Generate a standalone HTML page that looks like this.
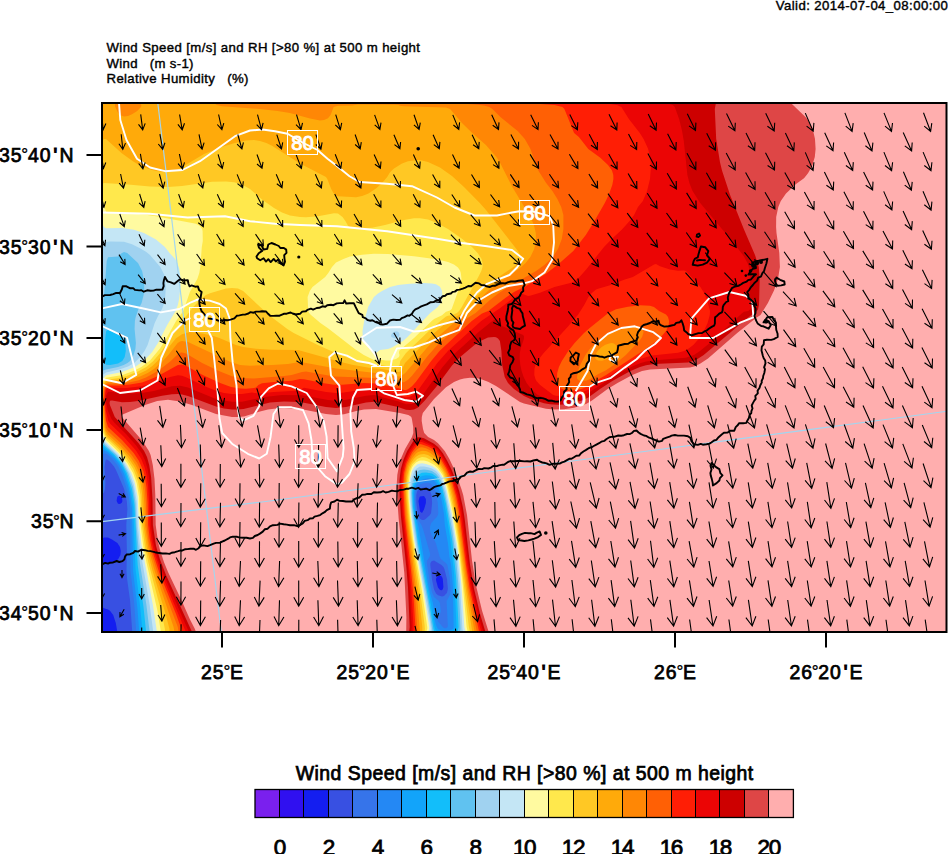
<!DOCTYPE html>
<html lang="en"><head><meta charset="utf-8"><title>Wind Speed and RH at 500 m height</title>
<style>html,body{margin:0;padding:0;background:#fff}body{width:948px;height:854px;overflow:hidden}svg{display:block;font-family:"Liberation Sans",sans-serif}text{fill:#000}</style></head><body>
<svg width="948" height="854" viewBox="0 0 948 854">
<rect width="948" height="854" fill="#fff"/>
<defs><clipPath id="m"><rect x="102.0" y="103.0" width="844.5" height="529.0"/></clipPath></defs>
<g clip-path="url(#m)">
<rect x="102.0" y="103.0" width="844.5" height="529.0" fill="#ffaeae"/>
<g>
<path d="M102.0,101.0 788.8,101.0 806.0,117.5 808.0,120.1 812.7,129.0 815.0,139.0 815.6,149.0 814.8,157.0 812.0,166.3 808.0,173.2 804.0,178.3 796.0,183.9 786.0,193.6 780.8,201.0 778.3,207.0 776.2,217.0 776.1,227.0 776.5,233.0 779.3,253.0 779.9,267.0 778.0,279.0 774.0,290.6 767.9,303.0 760.5,315.0 756.0,317.9 737.2,333.0 708.0,358.4 700.0,363.8 694.0,366.4 690.0,367.4 650.0,369.4 642.0,371.0 632.3,375.0 617.5,383.0 607.6,389.0 592.0,400.6 586.0,403.9 574.0,407.8 564.0,409.3 554.0,409.4 546.0,408.8 524.0,403.5 520.0,401.9 496.0,385.9 488.0,381.7 482.0,379.5 476.0,378.0 470.0,377.7 464.0,378.4 460.0,379.4 454.0,382.0 446.0,387.3 434.0,399.0 422.8,413.0 421.8,417.0 421.7,421.0 423.0,429.0 424.2,433.0 428.1,437.0 434.0,440.1 438.0,443.2 444.7,451.0 449.4,459.0 455.0,471.0 461.4,489.0 463.2,495.0 467.0,515.0 472.0,560.6 476.0,585.5 482.0,610.4 489.0,633.0 406.2,633.0 406.4,617.0 404.3,573.0 398.7,519.0 397.1,497.0 396.8,483.0 397.3,475.0 399.1,465.0 400.8,459.0 405.1,449.0 412.0,437.0 413.3,433.0 413.2,427.0 411.9,419.0 411.3,417.0 410.0,415.9 408.3,415.0 399.9,413.0 376.0,409.1 364.0,409.6 356.3,411.0 344.0,414.3 336.0,414.9 326.0,413.9 302.0,409.2 284.0,408.2 276.0,408.6 268.0,409.6 260.0,411.5 244.0,416.4 238.0,417.0 232.0,416.9 216.0,413.9 192.0,405.1 180.0,401.4 168.0,399.8 157.2,401.0 145.0,405.0 122.0,414.7 121.8,417.0 142.5,441.0 148.9,451.0 150.6,455.0 152.8,465.0 154.5,479.0 155.3,495.0 155.7,525.0 158.0,542.1 160.0,550.0 164.0,562.2 168.0,571.9 180.9,599.0 190.0,619.6 194.9,629.0 196.3,633.0 100.0,633.0 100.0,101.0Z" fill="#de4646"/>
<path d="M102.0,101.0 716.3,101.0 714.8,109.0 716.2,139.0 720.0,162.3 722.0,170.6 730.0,194.8 744.0,229.6 755.0,255.0 758.8,267.0 759.7,279.0 759.0,305.0 758.0,309.5 756.8,311.0 746.0,319.2 703.7,355.0 696.0,359.9 688.0,362.4 654.0,364.0 646.0,365.3 640.0,367.0 630.0,371.3 612.3,381.0 600.0,388.9 588.0,397.7 582.0,400.4 572.0,403.2 564.0,404.4 558.0,404.7 550.0,404.3 544.0,403.3 530.0,398.8 524.0,396.1 514.0,389.0 508.0,383.0 504.7,377.0 502.2,365.0 501.4,351.0 499.9,341.0 498.0,338.4 496.0,337.3 494.0,337.0 488.0,337.6 480.5,341.0 474.5,345.0 460.2,357.0 452.0,365.4 436.1,387.0 424.4,401.0 418.0,407.6 414.0,409.4 410.0,410.0 406.0,409.7 398.0,406.9 374.0,401.8 366.0,402.4 346.0,407.1 336.0,408.1 326.0,407.1 300.0,402.1 284.0,401.4 270.0,402.6 243.5,409.0 238.0,409.6 232.0,409.4 224.0,408.4 216.0,406.5 188.0,395.9 182.0,394.4 178.0,394.0 172.0,394.2 162.0,395.7 138.0,400.9 130.0,402.1 122.0,402.3 112.0,400.5 110.0,400.7 109.6,403.0 109.9,405.0 114.8,417.0 138.5,443.0 144.1,451.0 147.0,457.0 149.2,465.0 151.1,477.0 152.5,499.0 152.9,525.0 156.0,545.8 160.0,559.6 166.0,575.0 192.5,633.0 100.0,633.0 100.0,101.0ZM416.0,438.1 418.0,437.2 420.0,437.2 424.0,438.3 434.0,443.7 438.0,447.0 442.7,453.0 447.3,461.0 451.3,469.0 455.3,479.0 459.2,491.0 462.8,507.0 464.7,519.0 470.0,564.4 474.0,588.4 480.0,613.7 485.8,633.0 409.0,633.0 409.7,627.0 408.0,587.7 406.5,569.0 401.0,517.0 399.6,495.0 399.4,481.0 400.8,469.0 403.7,459.0 407.2,451.0 413.3,441.0 415.0,439.0Z" fill="#cd0000"/>
<path d="M102.0,101.0 655.9,101.0 666.3,103.0 672.8,105.0 674.8,107.0 679.1,119.0 682.0,130.4 683.8,141.0 687.4,175.0 689.4,183.0 692.6,191.0 700.2,203.0 732.0,241.1 744.0,256.4 748.0,264.0 750.0,271.7 750.3,279.0 749.3,293.0 750.8,305.0 750.6,309.0 748.3,311.0 744.0,311.8 742.0,313.3 709.8,343.0 700.0,351.1 694.0,355.0 686.0,357.8 652.0,360.4 646.0,361.4 640.0,363.2 630.0,367.5 616.0,375.0 586.0,394.5 578.0,397.6 570.0,399.4 562.0,400.4 556.0,400.5 547.3,399.0 537.7,395.0 531.2,389.0 526.6,383.0 523.6,377.0 521.6,371.0 520.3,365.0 519.7,359.0 519.8,353.0 521.1,347.0 523.9,339.0 524.0,336.4 523.2,335.0 502.0,326.0 498.0,320.6 496.0,318.9 492.3,321.0 478.0,332.5 452.0,356.1 442.6,367.0 422.0,395.9 416.0,402.1 412.0,404.0 406.0,404.3 398.0,401.2 384.0,397.8 378.0,395.7 374.0,395.1 366.0,395.7 346.0,399.7 336.0,400.7 328.0,400.0 302.0,395.2 282.0,395.1 264.9,397.0 242.0,401.7 232.0,401.8 222.0,400.3 214.0,398.2 188.0,387.6 180.0,385.7 172.0,386.3 153.8,391.0 140.0,393.3 130.0,393.6 108.0,391.7 106.0,396.1 106.0,402.1 108.0,411.0 111.5,419.0 114.0,422.3 126.0,434.1 136.0,445.3 142.0,453.7 145.3,461.0 147.6,469.0 149.2,479.0 150.6,499.0 151.1,525.0 153.2,541.0 155.5,551.0 158.0,559.3 164.0,575.2 189.4,633.0 100.0,633.0 100.0,101.0ZM416.0,441.0 418.0,439.8 422.0,440.0 432.0,444.7 437.4,449.0 440.6,453.0 446.6,463.0 450.5,471.0 454.4,481.0 458.6,495.0 461.1,507.0 463.0,519.0 468.0,561.3 472.0,586.5 480.0,621.0 483.7,633.0 411.1,633.0 411.7,627.0 410.0,592.0 408.2,569.0 402.5,517.0 401.1,497.0 400.8,483.0 401.7,473.0 402.8,467.0 404.6,461.0 409.2,451.0 416.0,441.0Z" fill="#eb0505"/>
<path d="M102.0,101.0 581.3,101.0 600.0,102.6 617.0,105.0 621.4,107.0 628.9,119.0 639.8,133.0 643.6,139.0 648.0,148.6 650.1,157.0 650.9,167.0 650.0,179.0 647.1,191.0 642.9,201.0 638.0,207.1 634.1,215.0 629.6,221.0 622.0,229.4 612.0,238.7 604.0,247.0 586.6,269.0 580.0,276.4 574.0,281.4 570.4,283.0 554.5,287.0 540.0,292.8 530.0,295.7 528.0,295.9 522.0,293.8 520.0,294.2 512.0,298.9 500.0,308.2 481.2,321.0 447.9,351.0 437.3,363.0 419.0,389.0 414.0,394.4 410.0,396.7 406.0,397.4 404.0,397.1 396.0,393.4 376.0,389.1 364.0,389.4 342.0,392.7 336.0,393.0 326.0,392.0 304.0,387.7 300.0,390.0 296.0,390.8 274.0,392.0 258.0,393.6 252.0,392.4 242.0,394.0 232.0,394.0 224.0,392.9 216.0,390.8 206.5,387.0 186.0,377.2 182.0,375.8 178.0,375.3 170.0,377.0 150.0,384.1 142.0,386.3 126.0,388.0 108.0,387.8 106.2,389.0 105.2,395.0 105.1,401.0 106.0,411.4 108.4,421.0 110.0,423.6 124.0,437.1 136.0,450.6 141.3,459.0 144.5,467.0 146.6,475.0 148.0,485.0 149.1,501.0 149.6,525.0 151.7,541.0 153.9,551.0 162.0,575.0 186.3,633.0 100.0,633.0 100.0,101.0ZM654.0,264.6 656.0,264.1 660.0,266.2 670.0,269.6 678.0,270.8 684.0,270.4 686.0,270.9 700.4,287.0 704.0,292.8 706.8,299.0 710.0,311.0 709.8,315.0 707.6,323.0 704.0,330.8 698.7,339.0 693.3,345.0 688.0,349.1 684.2,351.0 678.0,352.7 652.0,355.6 640.0,359.0 632.0,362.6 620.0,369.2 588.0,389.7 580.0,393.2 572.0,395.2 562.0,396.0 556.0,395.8 553.2,395.0 540.1,385.0 536.4,381.0 535.4,379.0 534.3,375.0 534.4,369.0 535.4,365.0 537.4,361.0 543.7,353.0 568.0,326.6 578.0,314.8 584.2,305.0 588.4,297.0 591.8,293.0 596.0,289.6 598.0,288.7 610.0,285.2 624.0,279.8 632.9,277.0 653.2,265.0ZM418.0,442.1 420.0,441.7 422.0,442.1 430.0,445.6 434.0,448.1 437.1,451.0 441.5,457.0 446.0,465.0 449.9,473.0 453.0,481.0 457.1,495.0 460.4,511.0 466.7,561.0 470.7,587.0 478.0,620.0 481.6,633.0 413.1,633.0 413.5,627.0 411.3,589.0 403.6,515.0 402.4,497.0 402.1,483.0 402.9,473.0 405.3,463.0 410.0,452.6 416.8,443.0Z" fill="#ff1e05"/>
<path d="M102.0,101.0 498.3,101.0 554.5,105.0 562.5,107.0 564.4,109.0 574.1,133.0 578.9,137.0 588.3,149.0 600.0,157.5 608.0,164.9 612.0,170.6 613.3,175.0 613.4,179.0 612.3,185.0 608.7,195.0 604.8,203.0 594.5,221.0 585.8,235.0 573.3,251.0 558.0,264.5 546.0,273.7 526.0,286.0 514.0,292.0 506.0,297.4 488.3,311.0 482.0,313.6 471.8,321.0 440.0,350.4 431.2,361.0 416.0,381.8 412.0,386.3 408.0,389.3 406.0,390.0 404.0,390.0 398.0,388.0 376.0,383.5 364.0,383.1 342.0,384.7 334.0,384.7 324.0,383.3 304.0,379.2 300.0,379.0 292.0,380.7 274.0,381.9 262.0,383.3 258.4,385.0 256.0,387.6 254.0,388.1 246.0,388.8 240.0,388.6 231.1,387.0 220.1,383.0 202.7,375.0 186.0,365.8 182.0,364.5 178.0,365.1 158.0,376.0 150.0,379.6 142.0,382.4 130.0,384.6 120.0,385.5 108.0,385.5 106.0,386.4 104.7,391.0 104.2,401.0 106.0,420.6 108.0,426.9 122.0,440.0 133.7,453.0 139.0,461.0 143.3,471.0 144.9,477.0 146.5,487.0 147.6,503.0 148.1,525.0 149.8,539.0 152.0,549.9 159.4,573.0 176.0,614.1 182.8,633.0 100.0,633.0 100.0,101.0ZM628.0,306.8 640.0,305.2 650.0,305.8 654.0,307.1 659.1,311.0 666.0,314.4 668.0,317.0 669.1,321.0 668.7,325.0 666.0,331.0 659.3,339.0 645.7,349.0 606.1,375.0 598.0,379.6 590.8,385.0 584.0,388.1 578.0,389.9 570.0,390.5 564.0,389.8 560.0,387.8 557.7,385.0 556.9,381.0 557.2,373.0 558.9,367.0 561.8,361.0 568.3,351.0 574.6,343.0 584.0,333.0 590.0,327.7 608.0,313.2 616.0,309.2 626.7,307.0ZM418.0,444.8 420.0,444.1 422.0,444.4 428.0,446.6 432.0,448.8 436.0,452.2 440.0,457.4 446.0,467.8 449.4,475.0 452.4,483.0 456.3,497.0 459.0,511.0 466.0,565.0 469.8,589.0 479.4,633.0 415.2,633.0 415.4,627.0 413.4,595.0 411.1,571.0 404.7,515.0 403.2,485.0 404.1,473.0 406.6,463.0 412.0,452.2 417.7,445.0Z" fill="#ff6005"/>
<path d="M102.0,101.0 399.7,101.0 458.0,103.2 478.0,104.7 484.0,105.6 489.4,107.0 492.4,109.0 500.4,117.0 517.7,131.0 524.8,139.0 530.5,149.0 536.0,164.9 538.6,171.0 546.0,182.7 552.4,191.0 557.4,199.0 561.2,207.0 563.4,215.0 563.4,229.0 561.8,239.0 558.0,249.0 554.1,255.0 550.8,259.0 544.4,265.0 536.1,271.0 510.0,285.9 500.0,292.3 490.0,300.1 475.6,313.0 465.9,319.0 437.5,345.0 428.5,355.0 412.0,375.8 408.0,379.8 404.0,382.3 398.0,382.2 380.0,378.8 370.0,377.7 334.0,376.4 306.0,371.6 302.0,372.0 291.7,375.0 284.0,375.9 254.0,378.4 240.0,378.0 232.0,376.3 218.8,371.0 202.1,363.0 186.0,353.4 182.0,352.4 180.0,352.8 178.0,353.9 170.8,361.0 157.9,371.0 146.0,377.5 138.0,380.4 130.0,382.2 120.0,383.5 108.0,383.8 106.0,384.5 104.0,389.0 103.2,399.0 106.0,427.8 108.0,431.3 120.7,443.0 131.6,455.0 137.2,463.0 141.7,473.0 143.7,481.0 145.0,489.0 146.0,503.0 146.5,525.0 148.6,541.0 150.7,551.0 158.8,577.0 177.8,627.0 178.7,633.0 100.0,633.0 100.0,101.0ZM628.0,327.0 632.0,326.1 636.0,326.0 640.0,327.0 642.0,328.4 643.4,331.0 643.4,333.0 642.1,337.0 640.0,340.1 625.9,355.0 613.8,365.0 606.0,370.2 598.0,374.3 590.4,379.0 586.0,380.8 579.9,381.0 577.2,379.0 577.0,377.0 578.0,371.0 580.0,365.6 585.4,355.0 589.7,349.0 598.0,340.9 606.0,335.2 612.0,332.2 627.9,327.0ZM418.0,448.5 420.0,447.4 422.0,447.3 426.0,448.2 432.0,451.2 436.0,454.9 440.0,460.2 445.2,469.0 451.1,483.0 454.5,495.0 457.7,511.0 468.0,586.2 477.1,633.0 417.6,633.0 414.5,589.0 405.8,515.0 404.3,487.0 404.9,475.0 407.2,465.0 412.0,455.2 414.0,452.4 417.4,449.0Z" fill="#ff8705"/>
<path d="M102.0,101.0 119.3,101.0 118.0,102.2 115.7,103.0 114.8,105.0 115.3,107.0 118.2,113.0 120.0,114.9 124.0,116.5 128.0,116.0 132.0,114.3 137.2,111.0 141.0,107.0 141.4,105.0 140.0,103.6 136.0,102.9 133.7,101.0 218.6,101.0 218.0,102.1 214.1,103.0 216.7,105.0 222.0,106.2 259.8,109.0 277.5,111.0 290.0,113.1 310.0,118.4 320.0,120.4 324.0,120.1 328.0,118.2 330.6,115.0 333.6,107.0 338.0,105.7 352.0,105.4 358.0,104.5 394.0,104.7 398.6,105.0 400.0,105.7 404.0,106.3 446.0,107.4 450.1,109.0 462.0,123.0 472.0,132.7 485.9,145.0 496.4,157.0 500.2,163.0 512.3,187.0 530.5,217.0 533.9,225.0 535.8,233.0 536.0,241.0 534.2,249.0 530.4,257.0 525.6,263.0 520.0,268.1 498.0,282.9 487.9,291.0 480.0,298.9 468.2,313.0 464.0,315.0 455.8,321.0 435.4,339.0 427.7,347.0 405.2,373.0 402.0,375.5 400.0,376.4 394.0,376.2 380.0,373.4 336.0,368.4 302.0,362.2 298.0,362.3 288.0,363.9 272.0,365.0 250.0,365.7 240.0,365.1 230.0,361.8 188.0,342.0 182.0,340.9 180.0,341.4 177.7,343.0 168.4,355.0 160.9,363.0 153.9,369.0 147.7,373.0 140.0,376.6 130.0,379.7 122.0,381.3 108.0,382.3 105.9,383.0 104.4,385.0 102.9,389.0 102.1,397.0 102.7,407.0 104.9,427.0 105.8,431.0 108.0,434.4 120.0,445.4 130.3,457.0 135.7,465.0 140.2,475.0 142.3,483.0 143.4,491.0 144.5,505.0 145.0,525.0 148.6,549.0 154.7,571.0 173.6,627.0 174.3,631.0 174.1,633.0 100.0,633.0 100.0,411.1 101.2,407.0 101.8,397.0 101.1,391.0 100.0,387.3 100.0,101.0ZM606.0,344.4 610.0,343.2 612.0,343.1 614.0,343.6 615.8,345.0 616.6,347.0 615.8,351.0 614.0,353.6 610.0,357.3 606.0,359.5 602.0,360.8 598.0,360.6 595.5,359.0 595.0,357.0 596.0,353.6 598.0,350.5 601.7,347.0 604.9,345.0ZM422.0,450.8 426.0,451.0 430.0,452.8 434.0,455.9 438.0,460.3 445.9,473.0 451.0,487.0 453.6,497.0 456.8,513.0 467.2,589.0 474.8,633.0 420.0,633.0 416.9,595.0 407.1,517.0 405.3,487.0 406.4,473.0 407.8,467.0 409.5,463.0 412.0,458.4 416.0,453.4 418.0,452.1 421.2,451.0Z" fill="#ffaa0a"/>
<path d="M106.0,138.9 121.5,153.0 132.5,161.0 139.0,165.0 148.0,168.8 152.0,170.0 156.3,171.0 166.0,172.2 174.0,171.1 178.0,169.4 204.0,154.0 220.0,147.5 234.0,143.3 246.0,140.5 254.0,140.0 260.0,140.9 266.4,143.0 272.0,145.7 300.0,163.5 326.0,177.0 327.3,179.0 331.2,189.0 333.4,193.0 336.0,195.6 338.0,196.2 356.0,197.3 362.0,196.0 368.0,193.7 376.0,188.6 382.0,182.9 387.2,177.0 390.0,172.3 394.0,168.4 402.0,163.4 408.0,161.2 418.0,160.1 422.0,160.4 428.0,161.9 440.0,167.6 452.0,176.1 464.0,187.0 480.0,203.2 486.0,210.1 518.0,251.1 520.0,255.0 520.5,259.0 519.7,261.0 516.2,265.0 494.0,280.3 484.0,288.8 474.3,299.0 466.0,309.8 458.0,315.8 451.2,319.0 448.1,321.0 434.4,333.0 405.0,363.0 401.1,371.0 400.0,371.8 398.0,372.1 382.0,369.1 372.0,368.3 352.0,364.7 340.0,361.8 298.0,349.9 272.0,349.8 256.0,348.7 243.1,347.0 235.8,345.0 220.0,338.3 212.0,335.6 202.0,333.4 190.0,332.1 182.0,334.2 176.0,338.3 157.5,361.0 152.0,366.2 146.0,370.4 136.5,375.0 126.0,378.5 120.0,379.8 106.0,381.3 103.1,385.0 102.0,387.8 100.0,384.8 100.0,141.4 101.7,141.0 104.0,139.1 104.8,139.0ZM102.0,410.2 103.0,415.0 103.9,427.0 106.0,434.6 108.0,437.1 120.0,448.2 127.8,457.0 134.5,467.0 138.8,477.0 140.8,485.0 142.0,493.0 143.5,525.0 147.0,549.0 152.6,571.0 165.3,613.0 169.5,629.0 169.4,633.0 100.0,633.0 100.0,413.0 101.7,411.0ZM420.0,454.5 424.0,453.9 428.0,455.1 432.0,457.5 436.0,461.0 442.0,468.6 444.0,472.1 449.2,485.0 452.7,499.0 456.8,521.0 466.7,595.0 472.4,633.0 422.3,633.0 422.3,627.0 418.8,595.0 408.6,521.0 406.9,503.0 406.3,489.0 406.9,477.0 409.2,467.0 411.1,463.0 414.0,458.8 416.0,456.7 418.7,455.0Z" fill="#ffc824"/>
<path d="M204.0,182.9 212.0,181.7 226.0,181.6 234.0,182.3 242.0,184.6 250.0,189.1 262.0,199.6 274.0,208.0 282.0,212.4 290.0,215.5 300.0,216.9 306.0,217.2 318.0,216.2 334.0,213.3 338.0,213.5 342.5,217.0 345.4,221.0 348.0,225.8 349.5,227.0 352.0,227.8 362.0,228.6 372.0,227.7 385.0,225.0 404.0,219.9 414.0,218.2 420.0,218.2 428.0,219.6 436.0,222.4 448.0,229.1 462.0,238.7 472.0,247.1 478.0,253.6 481.6,259.0 482.5,263.0 482.5,267.0 481.3,271.0 478.3,277.0 461.8,307.0 459.1,311.0 457.0,313.0 452.3,315.0 448.0,315.7 446.0,316.6 432.0,328.0 406.0,353.1 400.2,361.0 399.7,365.0 398.0,366.4 396.0,366.7 391.3,367.0 380.0,364.8 374.0,364.9 357.0,361.0 340.1,355.0 317.8,345.0 293.7,333.0 287.3,329.0 268.8,315.0 243.1,291.0 238.0,288.4 232.0,288.0 226.0,288.5 210.0,293.2 206.0,295.1 200.0,299.8 192.0,308.6 182.0,321.5 160.2,353.0 153.3,361.0 146.3,367.0 138.0,371.6 126.0,376.3 118.0,378.2 106.0,379.7 102.0,384.5 100.0,382.8 100.0,193.9 101.0,187.0 102.0,184.2 104.0,183.1 128.0,184.5 150.0,186.6 168.0,186.9 182.0,186.1 203.1,183.0ZM102.0,414.4 103.1,429.0 106.0,437.2 118.3,449.0 126.9,459.0 133.3,469.0 138.0,481.0 140.5,495.0 142.0,525.0 145.0,547.0 148.5,563.0 161.6,613.0 164.9,629.0 165.1,633.0 100.0,633.0 100.0,429.7 100.5,419.0 101.5,415.0ZM418.0,458.4 422.0,457.1 426.0,457.6 430.0,459.5 436.0,463.8 440.0,468.3 443.1,473.0 447.9,485.0 453.5,509.0 458.0,536.1 468.9,627.0 470.2,633.0 424.2,633.0 424.9,629.0 424.6,625.0 419.8,589.0 411.4,535.0 408.8,513.0 407.5,495.0 407.5,481.0 409.2,471.0 412.0,464.3 417.1,459.0Z" fill="#ffe84c"/>
<path d="M102.0,199.6 103.1,201.0 104.0,205.8 106.0,211.7 108.0,213.0 130.0,213.3 144.0,214.4 156.0,216.2 196.0,223.8 200.0,226.0 202.1,229.0 202.6,231.0 202.8,241.0 201.8,247.0 200.3,267.0 199.3,273.0 197.3,279.0 190.0,291.7 183.3,311.0 176.1,321.0 166.0,339.0 160.0,348.5 150.0,360.4 141.4,367.0 133.4,371.0 122.5,375.0 106.0,377.7 102.0,382.0 100.0,380.7 100.0,199.3ZM362.0,254.8 374.0,253.8 388.0,254.0 414.0,256.3 438.0,259.5 448.0,262.0 454.0,264.5 458.0,267.6 460.0,270.6 460.8,273.0 461.5,279.0 460.3,285.0 451.7,309.0 450.0,310.4 446.0,311.8 442.0,315.2 434.1,319.0 432.0,320.7 414.0,338.1 400.0,350.1 399.2,351.0 399.0,353.0 399.6,355.0 399.0,357.0 396.0,359.0 390.0,360.6 386.0,360.6 380.0,359.7 376.0,360.4 374.0,360.1 363.8,355.0 354.8,349.0 328.0,328.2 320.4,323.0 311.0,315.0 309.1,313.0 308.2,311.0 307.6,297.0 309.8,291.0 312.5,287.0 325.2,277.0 328.3,273.0 332.0,266.9 336.0,262.6 344.0,258.7 350.0,256.5 360.6,255.0ZM102.0,429.9 106.0,439.8 119.7,453.0 127.5,463.0 133.1,473.0 136.7,483.0 139.1,497.0 140.6,525.0 143.1,545.0 146.6,563.0 157.5,611.0 161.1,633.0 100.0,633.0 100.0,433.1 101.7,431.0ZM420.0,460.5 424.0,460.4 428.0,461.6 434.0,464.8 438.0,468.3 442.7,475.0 447.2,487.0 452.6,511.0 458.0,543.4 462.6,583.0 466.6,627.0 468.0,633.0 425.8,633.0 427.3,629.0 427.3,627.0 422.0,591.6 413.0,539.0 410.0,515.0 408.5,497.0 408.4,485.0 410.0,472.9 412.0,467.3 413.5,465.0 416.0,462.5 418.7,461.0Z" fill="#fffaa0"/>
<path d="M101.0,223.0 102.0,223.7 104.0,227.1 106.0,228.2 122.0,228.1 134.0,229.7 144.0,233.0 156.0,239.6 164.9,247.0 170.0,253.5 175.2,259.0 177.3,263.0 179.3,269.0 180.7,279.0 180.3,289.0 179.1,299.0 178.0,304.4 175.6,311.0 167.2,325.0 158.0,343.1 152.0,352.2 143.6,361.0 134.9,367.0 122.0,372.1 106.0,375.2 102.0,379.4 100.0,378.0 100.0,222.7ZM400.0,284.7 410.0,283.7 424.0,283.1 432.0,283.4 436.0,284.2 440.0,286.7 442.0,290.7 442.4,295.0 441.6,301.0 440.0,304.2 437.7,307.0 430.0,313.3 407.5,337.0 403.0,341.0 392.0,347.4 388.0,349.0 380.0,350.1 376.0,353.0 374.0,352.3 368.0,346.9 364.0,341.0 362.7,337.0 362.5,331.0 364.0,322.0 368.1,307.0 373.9,297.0 378.0,293.6 382.0,291.0 390.0,287.1 398.2,285.0ZM102.0,433.6 106.0,442.0 118.0,453.3 125.7,463.0 131.3,473.0 134.9,483.0 137.6,497.0 139.2,525.0 141.5,545.0 152.9,605.0 157.1,633.0 100.0,633.0 100.0,434.6ZM418.0,464.1 422.0,463.3 426.0,463.9 432.0,466.1 436.0,468.8 439.9,473.0 442.0,476.6 445.9,487.0 451.7,513.0 457.9,551.0 461.4,585.0 464.4,627.0 465.8,633.0 427.7,633.0 429.3,629.0 429.2,627.0 424.0,594.4 414.4,541.0 411.2,517.0 409.7,501.0 409.3,487.0 410.0,479.0 412.1,471.0 414.0,467.4 416.6,465.0Z" fill="#c4e6f5"/>
<path d="M106.0,242.0 110.0,241.4 124.0,241.8 132.0,244.2 140.0,248.2 146.0,251.8 150.0,255.1 160.3,267.0 164.4,275.0 165.6,281.0 165.7,289.0 165.2,297.0 163.5,305.0 162.0,309.0 158.0,315.9 154.7,323.0 147.6,345.0 144.5,351.0 140.2,357.0 134.2,363.0 128.0,366.5 120.0,369.2 106.0,372.4 102.0,375.6 100.0,374.5 100.0,248.4 102.0,249.0 105.1,243.0ZM394.0,332.0 396.0,331.3 398.0,331.7 399.1,333.0 399.6,335.0 398.7,337.0 396.0,338.2 394.0,338.1 391.4,337.0 391.1,335.0 392.5,333.0ZM102.0,436.3 102.9,439.0 105.2,443.0 117.9,455.0 124.1,463.0 129.6,473.0 133.9,485.0 136.6,501.0 137.9,527.0 140.5,551.0 149.7,605.0 153.4,633.0 100.0,633.0 100.0,436.8ZM420.0,466.6 424.0,466.5 428.0,467.2 432.0,468.6 436.0,471.1 439.4,475.0 441.6,479.0 445.7,491.0 452.0,521.3 456.4,549.0 459.8,583.0 462.5,629.0 463.2,633.0 430.1,633.0 430.9,629.0 430.1,623.0 415.4,541.0 412.2,517.0 410.6,501.0 410.4,487.0 411.4,479.0 414.4,471.0 416.0,468.9 419.0,467.0Z" fill="#a0d2f0"/>
<path d="M122.0,252.9 124.0,252.0 127.2,253.0 138.0,263.0 142.1,271.0 144.2,281.0 144.2,291.0 143.6,295.0 141.6,303.0 138.5,309.0 135.7,317.0 134.9,321.0 134.6,329.0 135.9,343.0 135.4,349.0 132.9,357.0 130.1,361.0 127.5,363.0 123.7,365.0 118.0,366.9 106.0,369.4 102.0,371.1 100.0,370.8 100.0,303.7 102.0,314.8 104.6,289.0 106.7,261.0 108.0,257.3 118.0,256.4 121.9,253.0ZM102.0,441.1 106.0,445.7 116.0,454.6 122.8,463.0 128.2,473.0 133.0,487.0 135.5,503.0 136.6,527.0 139.9,563.0 146.4,605.0 149.8,633.0 100.0,633.0 100.0,442.0ZM420.0,470.0 424.0,469.4 428.0,469.9 432.0,471.1 436.0,473.7 438.8,477.0 441.0,481.0 444.9,493.0 452.0,529.0 456.0,557.8 458.2,583.0 459.8,611.0 460.5,629.0 459.9,633.0 432.8,633.0 428.0,603.0 417.5,547.0 412.2,509.0 411.3,493.0 412.0,483.0 414.9,475.0 418.1,471.0Z" fill="#60c2f0"/>
<path d="M108.0,329.7 118.0,334.7 122.0,338.1 124.2,341.0 125.5,345.0 125.8,351.0 124.7,357.0 122.3,361.0 118.0,363.4 110.1,365.0 106.0,364.7 104.9,363.0 104.9,341.0 106.2,331.0ZM102.0,443.7 114.0,454.2 121.5,463.0 126.8,473.0 132.0,489.0 134.5,505.0 137.7,565.0 143.5,607.0 146.2,633.0 100.0,633.0 100.0,443.8ZM422.0,472.8 426.0,472.4 432.0,473.5 436.0,476.2 438.0,478.6 442.0,487.2 446.0,503.8 452.3,541.0 456.1,577.0 458.6,627.0 457.8,631.0 455.1,633.0 436.1,633.0 434.2,631.0 433.5,629.0 429.2,603.0 418.0,543.8 412.9,507.0 412.2,493.0 413.4,483.0 416.5,477.0 418.1,475.0 421.4,473.0Z" fill="#12befa"/>
<path d="M102.0,445.9 113.1,455.0 120.1,463.0 124.0,469.8 126.0,474.5 130.9,491.0 133.3,507.0 135.5,569.0 140.2,607.0 142.6,633.0 100.0,633.0 100.0,445.4ZM422.0,476.1 426.0,475.3 430.0,475.5 433.7,477.0 436.0,479.0 440.0,486.1 444.0,501.5 450.0,536.9 454.2,575.0 456.5,627.0 456.0,629.6 454.0,631.3 446.0,632.4 438.0,631.6 436.0,630.6 435.1,629.0 434.0,624.2 430.7,603.0 420.0,548.1 413.7,507.0 413.1,493.0 414.0,486.2 416.0,481.2 420.2,477.0Z" fill="#12a4fa"/>
<path d="M100.4,449.0 106.0,451.1 108.6,453.0 115.1,459.0 119.7,465.0 124.0,473.7 128.0,486.0 130.0,494.2 132.0,509.0 133.1,571.0 137.3,607.0 139.3,633.0 100.0,633.0 100.0,448.9ZM424.0,478.9 428.0,478.3 431.7,479.0 434.0,480.5 436.0,482.8 438.0,486.7 440.0,492.8 442.0,502.2 444.0,514.0 444.8,525.0 448.0,543.4 449.5,557.0 451.1,565.0 452.8,585.0 453.7,627.0 453.0,629.0 450.0,630.2 444.0,630.9 438.0,629.3 436.0,625.0 434.7,619.0 434.6,613.0 432.9,603.0 430.0,593.1 428.0,583.2 418.6,527.0 415.6,515.0 414.1,499.0 414.1,493.0 414.7,489.0 416.0,485.1 418.0,482.3 420.0,480.6 423.7,479.0Z" fill="#2488f4"/>
<path d="M102.0,454.4 104.0,453.6 106.0,453.8 108.0,455.0 114.0,460.7 118.0,466.0 122.0,474.3 126.0,486.7 128.6,497.0 129.9,505.0 130.2,511.0 130.5,571.0 134.2,603.0 136.3,633.0 100.0,633.0 100.0,485.8 102.0,489.1 103.0,487.0 103.6,483.0 102.0,473.7 100.0,480.0 100.0,453.5ZM424.0,482.9 428.0,482.6 430.0,483.2 432.0,484.7 434.0,487.5 436.1,493.0 437.8,503.0 438.3,513.0 437.9,515.0 436.8,517.0 431.2,523.0 430.0,527.0 430.1,531.0 431.5,535.0 435.8,543.0 439.8,557.0 440.9,559.0 445.9,563.0 447.4,565.0 449.7,577.0 450.6,591.0 449.9,595.0 446.6,601.0 447.8,625.0 447.7,627.0 446.0,628.3 444.0,628.0 442.7,627.0 437.7,621.0 437.4,619.0 438.0,617.0 440.5,613.0 440.9,611.0 439.9,603.0 438.8,601.0 434.0,597.0 432.0,592.3 430.0,583.4 426.8,563.0 426.9,561.0 429.5,557.0 430.2,555.0 429.9,553.0 423.0,529.0 421.4,525.0 418.0,519.4 416.0,511.4 415.1,499.0 415.5,491.0 418.0,486.2 420.0,484.6 423.7,483.0Z" fill="#3674ea"/>
<path d="M106.0,459.4 108.0,460.0 110.0,461.7 114.0,466.5 116.0,469.9 124.0,488.7 126.8,501.0 127.4,509.0 126.3,525.0 126.9,551.0 126.5,571.0 127.1,579.0 130.0,599.8 132.3,633.0 100.0,633.0 100.0,493.7 102.0,494.6 104.0,492.5 105.0,489.0 105.4,483.0 104.5,467.0 105.4,461.0ZM420.0,488.5 424.0,487.3 426.0,487.3 428.0,488.3 430.1,491.0 431.5,495.0 432.1,503.0 431.1,513.0 430.0,515.1 425.6,519.0 424.0,520.0 422.0,520.1 420.0,518.8 418.0,515.0 416.4,503.0 416.3,495.0 417.2,491.0 419.2,489.0ZM432.0,560.9 434.0,560.6 441.5,565.0 443.5,567.0 444.4,569.0 447.0,579.0 447.9,589.0 446.9,593.0 444.0,595.9 442.0,596.5 438.0,595.2 436.0,593.4 434.0,589.4 432.0,579.4 430.3,565.0 430.4,563.0 431.8,561.0Z" fill="#3850e2"/>
<path d="M118.0,495.9 120.0,495.8 122.0,498.1 122.4,501.0 122.0,502.4 120.0,504.1 118.0,503.8 116.6,501.0 117.2,497.0ZM420.0,496.4 424.0,496.1 425.9,499.0 425.9,503.0 424.0,509.6 422.0,513.0 420.0,511.4 418.5,501.0 419.6,497.0ZM104.0,537.6 108.0,537.6 112.0,539.4 117.4,543.0 120.0,547.0 120.8,551.0 120.4,555.0 118.3,559.0 116.0,560.9 114.0,562.1 110.0,563.2 104.0,563.3 102.0,562.2 101.3,561.0 101.5,555.0 100.0,553.3 100.0,546.2 101.2,545.0 101.3,541.0 102.0,539.0ZM438.0,575.7 440.0,575.3 442.0,576.8 442.8,579.0 443.4,587.0 442.9,589.0 442.0,590.2 440.0,590.1 438.0,587.6 436.2,581.0 436.0,579.0 436.7,577.0ZM100.1,601.0 102.0,607.0 104.0,608.3 108.0,609.5 110.0,610.8 113.2,615.0 115.8,623.0 117.5,633.0 100.0,633.0 100.0,600.8Z" fill="#141ef0"/>
</g>
<path d="M157.8,103.0 221.3,632.0" fill="none" stroke="#a2d6f0" stroke-width="1.15"/><path d="M102.0,521.6 180.0,511.9 260.0,502.2 340.0,491.8 420.0,481.2 500.0,470.5 574.0,460.7 650.0,450.7 730.0,440.1 811.0,429.4 880.0,420.2 947.0,411.2" fill="none" stroke="#a2d6f0" stroke-width="1.15"/>
<path d="M119.0,103.0 120.3,120.0 126.5,140.0 137.0,158.8 150.0,167.5 165.0,171.2 182.5,170.0 200.0,161.2 217.5,148.8 235.0,136.2 250.0,130.5 262.5,129.5 275.0,131.2 287.5,133.8 302.5,142.5 317.5,150.0 327.5,158.8 337.0,166.0 349.5,176.2 359.5,182.0 387.0,183.8 412.0,186.2 437.0,197.5 454.5,207.5 474.5,215.5 497.0,215.5 512.0,212.5 519.5,211.2 534.5,211.8 549.5,216.2 553.2,225.0 554.0,242.5 552.0,260.0 544.5,272.5 532.0,281.2 522.0,283.8 507.0,286.2 492.0,292.5 479.5,300.0 472.0,307.5 467.0,313.0 459.3,329.8 444.0,335.7 429.0,342.4 413.8,347.5 397.0,348.4 391.8,359.3 390.0,371.0 392.7,384.6 396.8,395.0 407.8,394.0 416.2,391.6 423.0,395.8 416.2,401.7 404.4,400.0 394.3,396.7 384.0,393.3 377.4,389.0M102.0,212.5 150.0,213.8 187.5,217.5 225.0,216.2 250.0,221.2 275.0,223.8 300.0,225.0 337.0,226.2 362.0,228.8 387.0,231.2 412.0,235.0 437.0,238.8 462.0,243.0 487.0,246.2 512.0,250.0 523.2,258.8 517.0,267.5 509.5,275.0 499.5,278.8 487.0,283.8 477.0,292.5 469.5,302.5 464.4,310.4 459.3,320.5 451.0,322.0 437.4,325.6 424.0,330.6 413.8,331.5 400.0,327.0 376.7,327.8 360.7,338.0 369.0,347.0 375.7,355.3 378.0,359.5 380.0,366.0M102.0,308.4 122.0,304.0 142.2,308.2 160.8,312.4 179.3,309.0 191.0,302.3 197.9,299.5 209.7,300.6 219.8,304.0 226.0,308.5 229.8,319.0 230.4,338.0 232.7,362.7 236.5,385.4 237.4,406.3 239.3,417.7 243.0,420.6 253.5,415.8 259.2,406.3 261.0,396.8 268.7,388.3 278.2,383.5 291.5,386.4 306.7,393.0 316.2,406.3 323.8,421.5 326.6,436.7 327.6,458.0 337.0,471.5 342.8,456.6 343.6,448.0 341.0,411.0 339.4,385.7 331.0,375.6 329.3,357.0 335.0,352.3 347.0,355.6 357.0,361.0 369.0,363.0 377.0,366.0M208.0,330.4 211.8,338.0 214.6,362.7 217.5,391.0 219.4,417.7 222.2,433.0 232.7,444.3 247.8,453.8 259.2,458.5 266.8,453.8 270.6,436.7 273.5,414.0 278.2,407.3 291.5,407.3 303.0,410.0 308.6,423.4 311.5,440.5 312.4,456.0 317.5,467.5 325.0,476.2 337.0,484.5 342.0,482.5 349.5,474.0 354.6,461.6 353.8,448.0 351.2,431.3 350.4,411.0 353.0,397.5 357.0,390.0 371.5,389.0M102.0,326.0 127.0,337.8 132.0,358.0 136.3,374.9 122.0,383.3 102.0,379.0M102.0,384.2 120.0,393.0 140.0,390.5 157.5,380.5 161.2,358.0 172.5,333.0 185.0,320.5 190.5,318.0M575.7,391.3 587.5,371.0 590.9,354.0 596.0,344.0 607.8,333.9 621.3,328.0 634.8,326.3 653.3,332.2 661.0,338.0 655.0,344.0 645.0,350.8 636.5,359.2 624.6,367.6 611.0,377.8 596.0,382.8 589.2,387.0M611.0,355.0 615.4,357.5 618.0,356.7 614.5,362.6 609.5,359.2ZM691.4,318.6 709.0,298.4 729.4,292.0 745.8,295.8 752.2,300.9 753.4,317.3 740.8,322.4 713.0,338.0 690.0,338.0Z" fill="none" stroke="#fff" stroke-width="1.90" stroke-linejoin="round"/>
<path d="M102.0,296.6 104.9,295.1 107.7,295.1 110.1,295.0 113.3,294.2 116.2,292.9 120.0,293.0 121.9,289.3 122.7,286.3 126.4,286.3 130.3,288.3 133.2,288.2 134.9,289.9 139.2,290.4 141.4,290.3 143.8,291.7 147.2,290.3 150.6,290.7 153.5,290.6 156.4,289.6 159.4,289.7 162.4,289.6 163.7,286.2 163.4,283.2 163.9,280.2 164.9,277.0 167.4,281.3 170.9,282.3 174.2,283.9 177.7,281.1 180.1,279.3 183.8,280.4 187.8,280.3 188.4,283.5 189.6,286.3 191.6,285.4 195.1,286.7 197.9,286.4 199.0,289.9 201.6,292.0 201.0,295.2 200.5,298.6 199.3,300.5 199.5,304.1 200.0,306.9 201.4,310.8 203.8,313.6 205.3,315.5 207.9,318.4 210.9,318.8 214.6,319.2 218.0,320.5 221.7,320.7 224.2,320.0 228.1,320.2 230.6,319.6 234.4,318.4 236.7,315.8 239.4,315.4 242.9,314.6 245.0,314.6 248.4,313.5 250.5,312.1 253.5,312.7 256.0,311.6 259.5,311.6 262.0,311.2 266.1,311.5 268.1,313.8 270.2,315.8 273.3,315.9 276.2,315.8 279.6,315.7 283.8,313.8 286.7,313.7 290.6,312.5 292.6,313.5 295.6,314.5 300.0,313.8 302.2,311.6 305.9,311.3 307.4,309.9 310.9,308.7 313.1,309.6 316.7,308.0 319.3,307.8 322.4,306.3 325.3,306.8 327.2,305.2 331.0,304.8 333.4,305.2 336.8,303.4 339.5,303.1 343.2,303.1 344.6,300.3 346.2,303.5 349.5,303.3 353.9,303.3 355.7,307.2 357.7,311.2 358.7,313.2 362.3,314.8 362.8,317.2 365.8,318.3 367.5,320.0 369.9,320.7 372.4,320.3 375.0,321.8 378.4,323.0 380.2,324.3 382.7,324.6 386.8,323.8 390.0,320.5 393.3,319.6 396.4,320.0 400.0,319.8 401.7,318.1 404.5,317.1 407.6,315.4 409.3,315.8 412.0,313.7 413.3,311.4 415.3,309.4 418.8,307.8 421.2,306.4 423.9,305.4 426.8,304.4 430.7,302.2 433.7,302.1 436.4,300.2 439.0,300.1 440.5,298.6 442.7,296.2 445.2,295.8 446.9,294.3 450.9,293.5 452.6,291.9 454.8,291.6 457.2,289.9 459.6,289.6 462.8,288.7 465.4,287.6 468.3,286.0 471.1,286.2 473.0,284.7 475.5,282.7 479.1,283.4 481.3,285.1 484.2,285.2 486.5,286.3 489.6,287.0 493.0,285.6 494.8,285.8 498.0,284.3 500.9,283.3 503.1,283.3 505.2,283.5 508.3,282.2 510.9,281.5 515.2,281.5 518.4,280.8 523.0,280.3 524.7,285.0 523.1,287.2 523.3,291.1 521.2,292.8 519.8,296.0 518.5,297.6 515.2,299.4 513.4,302.1 511.7,304.0 508.3,304.7 508.2,307.4 507.6,311.6 507.0,313.8 506.4,316.2 506.3,319.8 508.1,323.3 507.5,325.6 510.1,328.4 513.5,330.4 514.7,333.3 515.2,337.3 514.4,340.0 511.3,342.0 510.0,345.8 509.9,348.9 508.1,352.6 509.3,355.3 512.8,357.2 513.6,359.1 512.4,362.3 510.3,365.2 509.9,367.8 509.2,371.7 508.0,374.4 510.3,377.5 513.1,378.3 515.0,381.3 516.9,384.6 518.9,386.9 520.1,389.7 520.3,392.0 523.8,392.8 526.9,394.3 530.2,395.2 532.6,396.2 533.7,397.0 536.8,398.2 540.5,397.9 543.3,398.4 545.6,399.2 548.6,400.8 552.3,400.8 554.8,401.5 558.8,401.6 560.8,400.0 562.1,397.2 564.0,394.7 564.1,391.7 566.6,389.4 566.5,386.3 567.8,384.4 569.2,382.1 568.8,378.9 570.6,376.8 570.9,374.5 573.5,373.2 577.3,372.5 580.1,371.1 582.8,369.1 585.7,367.5 586.7,363.9 589.1,360.8 589.1,357.3 589.0,355.0 592.8,355.7 596.0,355.6 599.5,356.5 602.0,356.7 604.4,357.7 608.4,356.2 611.0,355.9 614.3,353.9 617.0,352.4 617.8,349.5 618.2,345.7 620.9,345.0 624.6,344.0 628.2,343.7 630.3,342.3 634.2,341.0 636.4,340.3 637.8,337.4 637.0,335.2 638.0,332.2 640.6,328.9 641.8,326.5 643.7,325.0 647.2,324.0 650.0,323.0 652.8,321.3 656.5,321.8 658.5,320.7 659.4,324.0 661.3,325.4 664.3,326.6 668.5,326.2 671.5,325.5 674.5,324.9 676.2,322.9 679.8,322.2 681.4,320.3 682.7,323.5 683.7,327.1 684.2,330.5 687.0,332.7 688.1,334.0 691.6,335.3 694.2,334.5 696.1,333.9 698.5,333.1 702.0,333.0 704.0,331.7 706.7,330.5 708.8,328.8 712.1,326.6 714.1,325.7 714.9,323.5 714.9,320.2 715.1,317.3 716.9,315.9 719.7,313.3 721.9,312.4 722.6,310.5 722.8,307.1 723.6,305.1 726.2,302.0 728.2,301.1 727.8,297.4 729.0,293.3 730.3,291.0 731.9,288.2 735.0,286.5 738.3,285.9 741.2,284.2 743.2,282.9 746.6,281.7 748.1,280.1 750.9,279.5 753.8,276.1 756.0,274.3 751.6,274.3 748.4,274.6 751.1,270.6 753.0,268.7 756.0,268.0 754.5,266.1 752.1,263.0 755.9,261.1 758.6,260.7 763.5,259.8 767.4,258.8 766.4,263.5 764.9,268.0 764.1,271.0 762.4,273.1 760.9,276.7 758.2,277.6 757.1,280.6 754.4,283.0 752.9,285.0 751.0,287.1 749.3,289.8 747.2,292.1 748.5,294.8 748.2,298.4 751.6,300.3 753.3,302.3 754.3,306.0 755.6,308.4 755.5,312.9 754.4,316.0 756.3,320.9 757.6,323.4 761.2,326.0 763.4,326.3 766.8,327.9 768.6,328.7 770.8,324.9 768.5,321.1 767.0,322.4 763.5,322.4 765.2,320.2 767.2,317.2 772.4,317.0 773.7,319.9 775.8,322.3 775.9,325.7 776.3,330.0 777.6,333.8 777.7,337.0 773.8,339.2 771.2,339.9 766.9,339.8 764.0,340.2 763.7,344.4 761.8,346.7 761.5,350.5 762.1,352.7 762.9,356.0 763.7,358.2 765.2,360.5 765.5,363.4 764.1,367.4 765.0,369.2 764.3,373.0 763.2,376.0 763.0,378.1 761.6,381.0 761.8,382.4 760.2,385.5 759.6,387.8 757.6,390.6 757.8,393.4 755.3,395.9 755.7,398.8 754.3,400.6 752.9,403.1 751.7,405.5 752.5,408.5 751.4,411.1 751.3,413.0 749.6,414.9 748.9,418.0 747.3,420.7 746.3,422.9 743.3,423.2 739.0,423.2 737.9,425.0 735.7,427.2 734.3,430.7 730.0,430.7 727.7,432.5 723.9,432.8 721.7,434.5 718.6,437.2 716.4,439.8 714.0,440.5 711.3,442.5 709.5,443.6 706.5,444.2 702.8,444.7 700.8,443.9 697.8,444.9 694.0,444.2 691.6,441.4 690.4,437.9 687.9,436.3 684.0,435.6 681.1,435.6 677.8,435.6 674.9,435.0 671.5,435.6 669.6,436.7 666.5,437.7 663.2,438.8 662.1,440.8 658.9,441.6 657.3,441.0 654.2,439.7 651.3,438.3 649.1,437.7 646.1,435.9 644.0,435.5 640.6,433.9 638.6,432.5 636.5,430.5 634.0,430.9 631.9,433.0 629.6,434.1 627.1,434.0 623.9,435.2 621.2,435.7 618.3,435.5 614.0,436.8 611.5,436.9 609.4,437.3 606.2,439.3 604.5,440.8 601.3,441.7 599.1,443.2 595.9,444.8 593.7,446.0 591.8,447.2 589.0,448.0 586.1,449.9 583.4,451.5 580.7,453.6 579.1,455.6 576.3,455.7 574.0,457.2 571.5,458.8 569.7,458.7 567.4,459.9 564.4,461.6 562.0,462.4 559.7,463.6 555.2,463.7 552.7,463.8 549.5,464.9 546.6,463.4 543.9,462.8 542.3,462.5 539.0,461.2 537.1,459.7 533.4,460.5 530.4,461.5 527.0,461.3 524.5,461.4 520.7,461.0 517.6,461.0 514.4,461.3 512.0,461.2 509.4,461.4 507.3,462.4 504.1,464.7 502.8,464.6 498.8,465.4 496.9,466.1 493.2,466.0 491.4,467.3 488.5,468.5 484.3,468.1 482.1,469.1 478.5,469.0 476.5,469.8 472.8,471.9 470.1,471.5 467.0,472.6 464.4,475.7 461.0,476.7 459.4,478.6 455.6,479.8 452.7,481.0 449.5,481.4 446.5,482.7 444.0,483.6 442.2,484.0 440.4,485.4 437.0,486.2 434.6,486.8 431.3,489.1 429.5,490.1 426.2,488.7 423.5,489.1 420.6,489.5 418.3,487.9 415.5,488.8 412.0,487.7 408.7,488.7 406.1,488.8 403.6,489.6 399.9,490.0 397.6,491.2 394.5,491.1 391.9,490.6 388.6,491.9 385.6,492.5 383.1,491.2 380.5,492.3 377.0,492.5 373.8,492.2 371.4,494.0 367.4,493.9 365.0,494.6 362.0,494.8 359.3,497.5 357.3,498.0 354.6,499.1 352.1,501.5 348.7,501.4 346.0,501.5 342.9,501.0 339.5,500.9 337.0,499.7 334.5,501.5 331.2,502.4 330.3,504.8 329.9,508.7 326.8,510.1 324.6,512.2 322.9,513.1 320.1,515.1 317.4,515.9 314.5,516.6 312.8,518.4 309.9,518.5 307.6,520.2 304.7,520.9 302.7,523.4 300.5,524.8 297.4,526.2 294.0,525.1 290.0,525.2 286.8,524.6 283.7,524.3 280.0,523.6 277.5,524.9 272.9,525.2 270.0,526.4 267.7,528.7 264.9,529.2 262.8,531.6 259.9,533.6 257.7,535.0 254.8,536.0 252.9,537.9 249.9,538.5 246.7,537.8 243.9,537.7 240.0,537.6 237.2,536.8 232.8,536.6 230.0,537.4 228.2,538.7 224.8,540.5 222.1,541.6 220.1,542.7 216.0,542.9 213.7,543.7 210.0,545.2 207.5,546.1 203.3,545.4 200.0,546.1 198.6,548.2 196.0,549.8 194.1,548.8 190.4,548.7 187.4,549.1 185.3,549.2 181.9,550.7 180.6,550.4 178.2,551.2 174.9,552.2 171.6,552.7 169.5,553.9 165.8,553.4 162.5,553.5 157.5,552.7 154.9,552.2 150.5,551.1 147.6,550.9 145.0,550.2 141.6,549.7 138.0,551.6 135.0,551.0 133.3,552.8 130.2,554.2 126.6,554.5 125.1,556.4 124.4,559.3 122.5,561.2 119.3,562.0 116.7,561.0 112.6,562.6 110.0,562.7 108.0,563.6 105.2,562.9 102.1,564.3M513.3,305.3 517.0,307.9 519.9,308.9 520.7,310.8 522.5,313.4 522.8,316.3 523.5,318.8 524.3,322.3 525.0,325.6 522.2,327.1 520.0,329.0 515.8,328.3 513.3,327.4 512.5,325.5 513.4,322.6 511.8,320.3 511.4,317.0 511.9,313.4 512.3,310.3 512.0,308.3ZM256.5,256.6 258.7,253.2 262.2,250.9 259.0,247.7 258.1,244.7 261.6,245.6 263.6,249.5 267.2,248.9 268.3,244.5 271.5,243.0 275.4,244.5 278.8,246.0 280.3,248.0 283.9,248.0 286.2,249.6 286.5,252.9 284.2,255.2 284.5,258.8 285.0,261.6 283.6,265.4 280.6,263.3 278.0,259.7 275.8,261.4 273.7,258.9 270.7,262.1 268.3,259.2 266.0,261.6 263.6,258.3 260.2,260.3 257.1,258.3ZM570.6,357.5 573.0,355.8 575.8,352.5 578.9,354.2 578.3,357.0 577.6,360.9 573.9,364.2 570.4,361.1ZM692.7,264.8 693.7,260.9 695.1,258.5 697.8,257.3 698.5,254.3 699.3,251.4 700.9,246.5 705.3,247.3 708.3,251.1 707.0,255.3 709.9,258.9 707.0,262.7 702.7,264.6 697.7,265.6ZM697.0,260.5 700.1,259.9 702.4,260.1 705.0,260.2M775.0,280.6 776.4,277.6 780.1,279.8 784.3,281.5 784.7,284.5 781.2,285.4 777.5,285.7 775.7,283.2ZM697.0,234.5 699.0,233.5 700.1,235.6 698.4,237.1 696.6,236.6ZM711.5,463.0 710.5,465.7 711.5,469.5 710.4,473.0 710.8,475.8 711.7,478.6 712.7,482.9 712.9,485.5 716.6,483.1 719.4,480.5 719.9,478.1 722.5,475.3 720.4,473.2 719.3,469.1 716.0,467.1 714.0,465.1ZM517.0,537.5 519.2,535.2 522.0,533.8 524.9,532.9 528.6,533.3 530.7,533.1 534.5,534.1 536.4,532.9 539.6,531.4 541.0,534.9 538.1,537.1 534.4,538.6 531.6,539.5 528.4,540.4 524.4,541.0 521.4,540.5 518.2,540.1Z" fill="none" stroke="#000" stroke-width="1.90" stroke-linejoin="round" stroke-linecap="round"/><circle cx="298.8" cy="257.0" r="1.6" fill="#000"/><circle cx="418.2" cy="148.8" r="1.8" fill="#000"/><circle cx="742.0" cy="271.0" r="1.3" fill="#000"/><circle cx="745.8" cy="275.6" r="1.3" fill="#000"/><circle cx="753.5" cy="265.5" r="2.4" fill="#000"/><circle cx="757.0" cy="263.0" r="2.2" fill="#000"/><circle cx="761.0" cy="262.0" r="2.0" fill="#000"/><circle cx="750.5" cy="271.0" r="1.8" fill="#000"/><circle cx="766.0" cy="321.3" r="2.3" fill="#000"/><circle cx="545.8" cy="533.0" r="1.8" fill="#000"/>
<path d="M101.7,114.4L103.1,129.8M105.9,123.5L103.1,129.8L99.2,124.1M140.7,114.4L142.7,129.9M145.2,123.4L142.7,129.9L138.5,124.3M179.6,114.5L182.2,129.8M184.5,123.2L182.2,129.8L177.9,124.4M218.6,114.5L221.9,129.7M223.8,123.1L221.9,129.7L217.3,124.5M257.5,114.7L261.5,129.6M263.1,122.9L261.5,129.6L256.7,124.6M296.5,114.7L301.0,129.6M302.5,122.8L301.0,129.6L296.0,124.7M335.7,114.7L340.4,129.6M341.7,122.8L340.4,129.6L335.3,124.8M374.6,114.9L379.9,129.4M381.0,122.6L379.9,129.4L374.7,124.9M414.0,114.8L419.1,129.4M420.3,122.6L419.1,129.4L413.9,124.9M452.8,114.9L458.8,129.4M459.6,122.4L458.8,129.4L453.4,125.0M491.7,114.8L498.5,129.5M499.0,122.4L498.5,129.5L492.7,125.3M530.7,114.7L538.0,129.6M538.4,122.3L538.0,129.6L532.0,125.4M569.8,114.5L577.4,129.8M577.8,122.3L577.4,129.8L571.3,125.6M609.0,114.3L616.8,130.0M617.1,122.4L616.8,130.0L610.5,125.7M648.2,114.1L656.1,130.2M656.5,122.5L656.1,130.2L649.8,125.8M687.3,113.8L695.5,130.5M695.9,122.6L695.5,130.5L689.0,125.9M726.5,113.5L734.9,130.8M735.3,122.7L734.9,130.8L728.2,126.1M765.7,113.3L774.2,130.9M774.7,122.7L774.2,130.9L767.4,126.2M805.3,113.1L813.2,131.2M813.9,122.9L813.2,131.2L806.6,126.1M844.9,112.9L852.1,131.4M853.2,123.1L852.1,131.4L845.7,126.1M884.0,112.9L891.5,131.4M892.5,123.0L891.5,131.4L885.0,126.1M923.5,112.8L930.6,131.5M931.8,123.2L930.6,131.5L924.2,126.1M121.2,134.2L122.8,149.3M125.5,143.1L122.8,149.3L118.9,143.8M159.9,134.2L162.7,149.3M164.9,142.8L162.7,149.3L158.3,144.0M199.0,134.3L202.1,149.2M204.1,142.7L202.1,149.2L197.7,144.1M237.8,134.5L241.9,149.0M243.4,142.4L241.9,149.0L237.1,144.2M276.8,134.6L281.5,149.0M282.7,142.3L281.5,149.0L276.5,144.3M315.9,134.5L320.9,149.1M322.1,142.3L320.9,149.1L315.8,144.5M355.1,134.5L360.2,149.0M361.3,142.2L360.2,149.0L355.1,144.5M393.9,134.8L399.9,148.8M400.6,142.0L399.9,148.8L394.5,144.6M433.1,134.8L439.3,148.8M439.9,141.9L439.3,148.8L433.8,144.6M472.1,134.7L478.8,148.8M479.2,141.9L478.8,148.8L473.1,144.8M510.9,134.6L518.5,148.9M518.6,141.8L518.5,148.9L512.5,145.0M550.0,134.4L558.0,149.1M558.0,141.8L558.0,149.1L551.8,145.2M589.2,134.2L597.3,149.4M597.4,141.9L597.3,149.4L591.0,145.3M628.5,134.0L636.6,149.6M636.8,142.0L636.6,149.6L630.2,145.4M667.6,133.7L675.9,149.9M676.2,142.1L675.9,149.9L669.5,145.5M706.7,133.3L715.4,150.2M715.6,142.2L715.4,150.2L708.7,145.7M746.0,133.1L754.7,150.4M755.0,142.2L754.7,150.4L747.9,145.8M785.4,132.9L793.8,150.7M794.3,142.4L793.8,150.7L787.0,145.8M824.7,132.7L833.0,150.8M833.6,142.5L833.0,150.8L826.3,145.9M864.2,132.5L872.0,151.0M872.9,142.6L872.0,151.0L865.4,145.8M903.2,132.6L911.6,150.9M912.2,142.5L911.6,150.9L904.8,145.9M101.4,154.1L103.4,168.7M105.8,162.5L103.4,168.7L99.4,163.3M140.4,153.9L142.9,168.9M145.2,162.5L142.9,168.9L138.7,163.5M179.4,154.0L182.5,168.8M184.5,162.3L182.5,168.8L178.1,163.7M218.1,154.3L222.3,168.5M223.7,162.0L222.3,168.5L217.5,163.8M257.0,154.5L262.0,168.3M263.0,161.8L262.0,168.3L257.0,164.0M296.0,154.4L301.4,168.4M302.4,161.7L301.4,168.4L296.3,164.1M335.2,154.3L340.8,168.5M341.7,161.7L340.8,168.5L335.5,164.2M374.1,154.5L380.4,168.3M381.0,161.5L380.4,168.3L374.9,164.3M413.4,154.6L419.7,168.2M420.2,161.5L419.7,168.2L414.2,164.2M452.5,154.5L459.1,168.3M459.5,161.5L459.1,168.3L453.5,164.3M491.2,154.6L498.9,168.2M498.9,161.3L498.9,168.2L493.0,164.6M530.1,154.4L538.6,168.4M538.3,161.2L538.6,168.4L532.3,164.8M569.4,154.2L577.9,168.6M577.7,161.3L577.9,168.6L571.6,164.9M608.7,153.9L617.1,168.9M617.0,161.4L617.1,168.9L610.7,165.0M647.9,153.6L656.4,169.2M656.5,161.5L656.4,169.2L649.9,165.1M687.0,153.3L695.8,169.6M695.9,161.6L695.8,169.6L689.2,165.3M726.2,152.9L735.2,169.9M735.3,161.7L735.2,169.9L728.4,165.4M765.5,152.7L774.5,170.1M774.7,161.8L774.5,170.1L767.6,165.5M805.3,152.4L813.1,170.4M813.9,162.2L813.1,170.4L806.6,165.4M844.3,152.3L852.7,170.5M853.3,162.1L852.7,170.5L845.9,165.5M883.9,152.1L891.6,170.7M892.6,162.3L891.6,170.7L885.0,165.5M923.1,152.1L931.0,170.7M931.9,162.3L931.0,170.7L924.3,165.5M120.6,174.0L123.5,188.1M125.4,181.9L123.5,188.1L119.2,183.1M159.4,174.0L163.2,188.1M164.8,181.7L163.2,188.1L158.6,183.3M198.3,174.2L202.8,187.9M204.1,181.4L202.8,187.9L198.0,183.4M237.1,174.4L242.6,187.7M243.3,181.2L242.6,187.7L237.5,183.6M276.2,174.3L282.0,187.8M282.7,181.1L282.0,187.8L276.8,183.7M315.3,174.2L321.4,187.9M322.0,181.2L321.4,187.9L316.0,183.8M354.4,174.1L360.9,188.0M361.4,181.1L360.9,188.0L355.3,184.0M393.5,174.4L400.3,187.6M400.5,180.9L400.3,187.6L394.7,183.9M432.6,174.5L439.8,187.5M439.8,180.8L439.8,187.5L434.1,184.0M471.5,174.5L479.4,187.6M479.1,180.7L479.4,187.6L473.5,184.2M510.3,174.4L519.1,187.6M518.5,180.6L519.1,187.6L512.9,184.4M549.4,174.2L558.6,187.9M557.9,180.7L558.6,187.9L552.1,184.6M588.9,174.0L597.6,188.1M597.3,180.8L597.6,188.1L591.3,184.6M628.1,173.5L636.9,188.6M636.7,181.0L636.9,188.6L630.4,184.7M667.2,173.2L676.4,188.9M676.2,181.1L676.4,188.9L669.7,184.9M706.4,172.8L715.7,189.2M715.6,181.2L715.7,189.2L708.9,185.0M745.6,172.6L755.1,189.5M755.0,181.3L755.1,189.5L748.1,185.2M784.8,172.4L794.4,189.6M794.4,181.3L794.4,189.6L787.3,185.3M824.4,172.1L833.3,190.0M833.7,181.6L833.3,190.0L826.4,185.2M863.6,172.0L872.6,190.0M873.0,181.6L872.6,190.0L865.7,185.3M903.4,171.7L911.4,190.3M912.2,181.9L911.4,190.3L904.7,185.1M100.9,194.0L103.9,207.3M105.7,201.3L103.9,207.3L99.7,202.6M139.6,194.0L143.8,207.4M145.1,201.1L143.8,207.4L139.1,202.9M178.6,194.1L183.3,207.3M184.3,200.9L183.3,207.3L178.5,203.0M217.3,194.3L223.2,207.1M223.6,200.6L223.2,207.1L218.0,203.3M256.3,194.2L262.7,207.1M263.0,200.6L262.7,207.1L257.3,203.4M295.4,194.2L302.0,207.2M302.3,200.6L302.0,207.2L296.6,203.5M334.7,194.0L341.3,207.3M341.6,200.6L341.3,207.3L335.8,203.5M373.7,194.2L380.9,207.2M380.9,200.5L380.9,207.2L375.2,203.6M413.2,194.2L419.9,207.1M420.1,200.5L419.9,207.1L414.4,203.5M451.8,194.5L459.9,206.9M459.4,200.2L459.9,206.9L453.9,203.7M490.5,194.5L499.6,206.8M498.7,200.0L499.6,206.8L493.4,204.0M529.5,194.3L539.2,207.0M538.2,200.0L539.2,207.0L532.7,204.2M568.7,194.1L578.6,207.3M577.6,200.1L578.6,207.3L572.0,204.3M608.0,193.6L617.8,207.7M617.0,200.3L617.8,207.7L611.1,204.4M647.3,193.2L657.0,208.2M656.5,200.5L657.0,208.2L650.2,204.5M686.6,192.9L696.2,208.5M695.9,200.6L696.2,208.5L689.4,204.6M725.8,192.5L735.6,208.8M735.3,200.8L735.6,208.8L728.6,204.8M765.0,192.2L774.9,209.1M774.7,200.9L774.9,209.1L767.8,204.9M804.4,191.9L814.0,209.4M814.1,201.0L814.0,209.4L806.9,204.9M843.9,191.8L853.1,209.6M853.3,201.2L853.1,209.6L846.1,204.9M883.7,191.4L891.9,209.9M892.6,201.5L891.9,209.9L885.1,204.8M923.0,191.3L931.1,210.1M931.9,201.6L931.1,210.1L924.3,204.8M119.8,214.0L124.3,226.6M125.3,220.5L124.3,226.6L119.6,222.5M158.6,214.1L164.0,226.6M164.6,220.3L164.0,226.6L159.0,222.7M197.8,214.0L203.3,226.6M203.9,220.3L203.3,226.6L198.3,222.8M236.5,214.1L243.2,226.5M243.3,220.1L243.2,226.5L237.8,223.1M275.5,214.1L282.7,226.5M282.6,220.0L282.7,226.5L277.1,223.1M314.8,214.1L321.9,226.5M321.8,220.0L321.9,226.5L316.3,223.1M354.0,214.0L361.3,226.6M361.2,220.0L361.3,226.6L355.6,223.2M393.1,214.2L400.7,226.4M400.4,219.9L400.7,226.4L395.0,223.2M432.0,214.4L440.3,226.2M439.6,219.7L440.3,226.2L434.4,223.3M470.7,214.6L480.2,226.0M478.9,219.4L480.2,226.0L473.9,223.6M509.7,214.5L519.8,226.1M518.3,219.4L519.8,226.1L513.3,223.8M548.9,214.0L559.1,226.6M557.8,219.6L559.1,226.6L552.4,223.9M588.0,213.6L598.5,227.0M597.3,219.7L598.5,227.0L591.7,224.1M627.2,213.2L637.8,227.4M636.8,219.8L637.8,227.4L630.8,224.3M666.5,213.0L677.0,227.6M676.1,219.9L677.0,227.6L670.0,224.3M705.9,212.7L716.2,227.9M715.5,220.1L716.2,227.9L709.2,224.4M745.1,212.2L755.5,228.4M755.0,220.3L755.5,228.4L748.3,224.5M784.7,211.8L794.5,228.8M794.3,220.5L794.5,228.8L787.4,224.5M824.0,211.6L833.7,229.0M833.7,220.6L833.7,229.0L826.6,224.6M863.5,211.3L872.8,229.3M873.0,220.8L872.8,229.3L865.7,224.6M903.1,211.0L911.6,229.6M912.3,221.1L911.6,229.6L904.8,224.5M99.9,234.2L104.9,245.7M105.5,239.8L104.9,245.7L100.2,242.1M139.0,234.2L144.3,245.7M144.8,239.7L144.3,245.7L139.5,242.2M177.6,234.2L184.3,245.7M184.1,239.5L184.3,245.7L179.0,242.5M216.6,234.0L223.8,245.9M223.6,239.5L223.8,245.9L218.3,242.7M255.5,234.1L263.4,245.8M262.9,239.4L263.4,245.8L257.6,242.9M294.8,234.0L302.7,245.9M302.2,239.4L302.7,245.9L296.9,242.9M334.3,234.0L341.8,245.9M341.4,239.5L341.8,245.9L336.1,242.8M373.4,234.1L381.1,245.8M380.6,239.4L381.1,245.8L375.4,242.8M412.1,234.5L420.9,245.4M419.8,239.1L420.9,245.4L415.0,243.0M450.9,234.7L460.7,245.1M459.1,238.8L460.7,245.1L454.5,243.1M489.8,234.7L500.3,245.2M498.5,238.7L500.3,245.2L493.9,243.3M529.0,234.3L539.7,245.6M538.0,238.9L539.7,245.6L533.1,243.5M568.1,233.6L579.1,246.3M577.6,239.1L579.1,246.3L572.2,243.8M607.6,232.8L618.2,247.1M617.2,239.5L618.2,247.1L611.2,243.9M646.8,232.8L657.5,247.1M656.5,239.5L657.5,247.1L650.5,243.9M686.3,232.5L696.6,247.3M695.8,239.6L696.6,247.3L689.6,243.9M725.3,232.5L736.1,247.4M735.1,239.6L736.1,247.4L729.0,244.1M764.5,231.8L775.4,248.0M774.7,239.8L775.4,248.0L768.1,244.3M804.2,231.6L814.2,248.3M814.0,240.1L814.2,248.3L807.1,244.2M843.4,231.3L853.5,248.6M853.3,240.2L853.5,248.6L846.3,244.3M883.0,230.9L892.5,249.0M892.7,240.5L892.5,249.0L885.4,244.3M922.7,230.6L931.4,249.3M932.0,240.7L931.4,249.3L924.4,244.2M119.0,254.6L125.1,264.5M124.8,258.9L125.1,264.5L120.2,261.7M157.5,254.6L165.1,264.5M164.2,258.7L165.1,264.5L159.7,262.1M196.6,254.0L204.5,265.2M203.8,258.9L204.5,265.2L198.8,262.4M235.5,254.0L244.1,265.1M243.2,258.8L244.1,265.1L238.2,262.6M274.9,254.0L283.4,265.2M282.4,258.8L283.4,265.2L277.5,262.6M314.3,254.0L322.5,265.2M321.7,258.8L322.5,265.2L316.7,262.5M353.3,254.3L361.9,264.9M360.8,258.7L361.9,264.9L356.1,262.5M392.5,254.4L401.3,264.7M400.1,258.6L401.3,264.7L395.4,262.5M431.2,254.8L441.1,264.3M439.2,258.3L441.1,264.3L435.0,262.7M469.9,255.1L481.0,264.0M478.5,258.0L481.0,264.0L474.6,262.9M509.3,254.5L520.1,264.7M518.1,258.3L520.1,264.7L513.6,263.0M548.5,253.4L559.5,265.7M557.9,258.7L559.5,265.7L552.6,263.4M588.0,252.4L598.5,266.7M597.5,259.2L598.5,266.7L591.5,263.5M627.1,252.4L638.0,266.7M636.9,259.1L638.0,266.7L630.9,263.6M666.2,252.7L677.4,266.5M676.1,258.9L677.4,266.5L670.3,263.6M705.2,252.7L716.9,266.4M715.4,258.8L716.9,266.4L709.6,263.7M744.5,252.3L756.2,266.8M754.8,259.0L756.2,266.8L748.8,263.8M784.1,251.8L795.1,267.4M794.2,259.3L795.1,267.4L787.8,263.8M823.6,251.3L834.2,267.8M833.6,259.6L834.2,267.8L826.9,263.9M862.8,250.9L873.4,268.3M873.1,259.7L873.4,268.3L866.0,264.1M902.8,250.3L912.0,268.8M912.4,260.2L912.0,268.8L904.9,264.0M99.7,273.8L105.1,284.7M105.4,278.8L105.1,284.7L100.3,281.4M138.1,274.7L145.3,283.7M144.4,278.2L145.3,283.7L140.1,281.6M176.8,274.2L185.1,284.2M184.0,278.2L185.1,284.2L179.4,282.0M215.4,274.0L225.0,284.4M223.5,278.1L225.0,284.4L218.9,282.4M254.9,273.8L264.1,284.6M262.8,278.3L264.1,284.6L258.0,282.3M294.3,273.8L303.2,284.6M302.0,278.3L303.2,284.6L297.2,282.2M333.7,273.9L342.3,284.5M341.2,278.3L342.3,284.5L336.4,282.1M372.8,274.3L381.7,284.1M380.3,278.1L381.7,284.1L375.9,282.1M411.5,275.0L421.6,283.4M419.4,277.7L421.6,283.4L415.6,282.3M450.2,275.4L461.4,283.0M458.6,277.4L461.4,283.0L455.2,282.4M489.0,274.8L501.1,283.6M498.3,277.5L501.1,283.6L494.4,282.8M528.4,273.2L540.3,285.2M538.3,278.1L540.3,285.2L533.2,283.1M568.0,272.4L579.2,286.0M577.9,278.5L579.2,286.0L572.1,283.2M607.4,272.2L618.4,286.2M617.2,278.6L618.4,286.2L611.3,283.2M646.5,272.5L657.8,285.9M656.3,278.4L657.8,285.9L650.7,283.2M685.5,272.6L697.3,285.8M695.6,278.4L697.3,285.8L690.1,283.3M724.4,272.7L737.0,285.8M735.0,278.2L737.0,285.8L729.5,283.4M763.6,271.8L776.3,286.6M774.6,278.5L776.3,286.6L768.6,283.7M803.6,271.5L814.9,286.9M813.8,278.9L814.9,286.9L807.5,283.5M843.0,270.7L854.0,287.7M853.4,279.3L854.0,287.7L846.5,283.7M882.8,270.0L892.7,288.4M892.8,279.7L892.7,288.4L885.4,283.7M922.4,269.8L931.6,288.6M932.1,279.9L931.6,288.6L924.5,283.6M119.7,293.6L124.4,304.1M124.9,298.5L124.4,304.1L119.9,300.7M157.4,294.2L165.2,303.5M164.1,297.8L165.2,303.5L159.8,301.4M195.9,293.4L205.2,304.3M203.9,297.9L205.2,304.3L199.1,302.0M235.0,293.4L244.6,304.2M243.2,297.8L244.6,304.2L238.4,302.1M274.5,293.5L283.8,304.2M282.4,297.9L283.8,304.2L277.7,302.0M314.0,293.7L322.8,304.0M321.5,297.8L322.8,304.0L316.9,301.8M353.3,293.9L362.0,303.8M360.7,297.8L362.0,303.8L356.2,301.7M392.0,294.7L401.8,303.0M399.7,297.4L401.8,303.0L395.9,301.8M431.0,295.1L441.4,302.5M438.8,297.1L441.4,302.5L435.4,301.9M469.5,294.1L481.4,303.5M478.8,297.3L481.4,303.5L474.7,302.4M508.7,292.2L520.8,305.5M519.0,298.0L520.8,305.5L513.4,303.0M548.6,291.7L559.4,306.0M558.3,298.4L559.4,306.0L552.3,302.9M587.8,291.9L598.7,305.8M597.5,298.3L598.7,305.8L591.7,302.8M627.0,292.2L638.0,305.5M636.6,298.1L638.0,305.5L631.1,302.8M666.0,292.4L677.5,305.3M675.9,298.0L677.5,305.3L670.5,302.8M704.5,292.8L717.6,304.9M715.2,297.6L717.6,304.9L710.1,303.1M744.0,292.2L756.7,305.5M754.7,297.9L756.7,305.5L749.2,303.2M783.0,291.7L796.2,306.0M794.2,298.0L796.2,306.0L788.4,303.4M822.9,290.8L834.8,306.9M833.7,298.6L834.8,306.9L827.2,303.4M862.7,289.9L873.6,307.8M873.2,299.1L873.6,307.8L866.0,303.5M902.5,289.4L912.3,308.3M912.5,299.5L912.3,308.3L905.0,303.4M100.0,313.2L104.8,323.7M105.2,318.1L104.8,323.7L100.3,320.4M138.5,313.5L144.8,323.5M144.5,317.8L144.8,323.5L139.8,320.7M176.7,312.8L185.1,324.1M184.3,317.7L185.1,324.1L179.3,321.5M215.5,312.8L224.9,324.2M223.7,317.6L224.9,324.2L218.7,321.7M254.8,312.9L264.1,324.1M262.9,317.6L264.1,324.1L258.0,321.7M294.2,313.2L303.3,323.8M302.0,317.5L303.3,323.8L297.3,321.5M333.7,313.3L342.3,323.7M341.2,317.5L342.3,323.7L336.5,321.4M372.9,313.8L381.6,323.2M380.2,317.3L381.6,323.2L375.9,321.3M411.6,314.5L421.5,322.5M419.3,316.9L421.5,322.5L415.6,321.4M450.3,313.1L461.3,323.9M459.3,317.3L461.3,323.9L454.7,322.0M489.7,311.0L500.4,325.9M499.5,318.1L500.4,325.9L493.3,322.6M529.2,310.9L539.5,326.0M538.8,318.2L539.5,326.0L532.5,322.5M568.3,311.3L578.9,325.6M577.9,318.0L578.9,325.6L571.9,322.4M607.6,311.9L618.2,325.1M616.9,317.8L618.2,325.1L611.3,322.3M646.9,312.0L657.4,325.0M656.2,317.8L657.4,325.0L650.6,322.2M685.6,312.0L697.2,325.0M695.6,317.6L697.2,325.0L690.1,322.5M724.4,311.8L737.0,325.1M735.0,317.5L737.0,325.1L729.5,322.7M763.5,311.1L776.4,325.9M774.7,317.8L776.4,325.9L768.6,323.1M802.8,310.7L815.7,326.3M814.1,317.9L815.7,326.3L807.8,323.2M842.6,309.5L854.3,327.5M853.7,318.6L854.3,327.5L846.5,323.3M882.5,309.0L893.0,327.9M893.0,319.0L893.0,327.9L885.4,323.2M922.1,308.8L932.0,328.2M932.3,319.2L932.0,328.2L924.5,323.2M119.3,333.3L124.8,342.9M124.7,337.4L124.8,342.9L120.1,340.1M157.3,332.9L165.3,343.3M164.4,337.2L165.3,343.3L159.7,340.9M196.0,332.0L205.1,344.2M204.2,337.4L205.1,344.2L198.9,341.4M235.5,332.0L244.1,344.2M243.4,337.5L244.1,344.2L238.1,341.3M275.1,331.9L283.1,344.3M282.6,337.6L283.1,344.3L277.2,341.1M314.6,332.2L322.2,344.1M321.8,337.6L322.2,344.1L316.5,341.0M354.7,332.2L360.6,344.0M360.9,337.8L360.6,344.0L355.5,340.6M393.8,332.8L400.0,343.5M399.9,337.6L400.0,343.5L395.0,340.4M431.2,332.0L441.1,344.2M439.9,337.3L441.1,344.2L434.7,341.6M469.6,330.9L481.3,345.4M479.9,337.5L481.3,345.4L473.9,342.4M509.5,330.4L520.0,345.8M519.2,337.9L520.0,345.8L512.9,342.2M549.1,330.7L558.9,345.5M558.3,337.9L558.9,345.5L552.1,342.0M588.2,331.4L598.3,344.8M597.3,337.5L598.3,344.8L591.6,341.8M627.8,331.5L637.2,344.7M636.4,337.6L637.2,344.7L630.8,341.6M666.7,331.1L676.9,345.1M676.0,337.6L676.9,345.1L670.1,341.9M705.3,331.0L716.8,345.2M715.4,337.5L716.8,345.2L709.5,342.3M744.2,330.4L756.5,345.8M755.1,337.6L756.5,345.8L748.8,342.6M783.5,329.6L795.7,346.6M794.7,338.0L795.7,346.6L787.8,342.9M822.9,329.5L834.8,346.7M834.0,338.0L834.8,346.7L827.0,342.9M862.7,328.6L873.6,347.6M873.5,338.6L873.6,347.6L865.8,342.9M902.2,328.3L912.6,348.0M912.8,338.8L912.6,348.0L904.9,343.0M100.5,352.5L104.3,363.0M105.2,357.6L104.3,363.0L100.2,359.4M137.7,352.9L145.6,362.6M144.6,356.7L145.6,362.6L140.1,360.4M176.3,350.8L185.5,364.7M185.0,357.4L185.5,364.7L179.1,361.3M216.1,351.0L224.3,364.5M224.0,357.5L224.3,364.5L218.2,361.0M255.9,351.0L263.1,364.5M263.2,357.7L263.1,364.5L257.3,360.8M295.2,350.9L302.3,364.6M302.5,357.7L302.3,364.6L296.5,360.8M335.3,350.9L340.7,364.6M341.6,358.0L340.7,364.6L335.6,360.3M375.2,351.4L379.4,364.1M380.5,358.0L379.4,364.1L374.8,359.9M413.6,350.6L419.5,364.9M420.3,358.1L419.5,364.9L414.1,360.6M450.3,350.1L461.3,365.4M460.4,357.4L461.3,365.4L454.1,362.0M489.1,350.2L501.1,365.2M499.7,357.2L501.1,365.2L493.5,362.1M530.1,349.9L538.6,365.6M538.7,357.9L538.6,365.6L532.1,361.5M569.4,350.5L577.8,365.0M577.7,357.7L577.8,365.0L571.5,361.2M608.8,351.0L617.0,364.5M616.7,357.5L617.0,364.5L610.9,361.0M647.5,350.0L656.8,365.5M656.5,357.7L656.8,365.5L650.1,361.6M686.5,349.8L696.3,365.7M695.9,357.7L696.3,365.7L689.4,361.8M724.8,349.6L736.6,365.9M735.6,357.5L736.6,365.9L728.9,362.3M764.7,348.7L775.2,366.8M775.0,358.1L775.2,366.8L767.7,362.3M803.8,348.3L814.7,367.2M814.5,358.2L814.7,367.2L807.0,362.6M843.0,347.8L854.0,367.7M854.0,358.4L854.0,367.7L846.1,362.8M882.4,347.6L893.1,367.9M893.3,358.5L893.1,367.9L885.3,362.8M921.9,347.6L932.2,367.9M932.5,358.6L932.2,367.9L924.5,362.7M120.3,370.4L123.8,384.3M125.5,378.0L123.8,384.3L119.3,379.6M157.5,369.5L165.1,385.2M165.5,377.7L165.1,385.2L158.9,380.9M196.6,369.7L204.5,385.1M204.8,377.6L204.5,385.1L198.3,380.9M236.5,369.9L243.2,384.8M243.8,377.6L243.2,384.8L237.4,380.5M275.7,369.9L282.5,384.9M283.1,377.7L282.5,384.9L276.7,380.6M315.1,369.7L321.6,385.1M322.4,377.8L321.6,385.1L315.9,380.5M356.6,369.2L358.7,385.5M361.3,378.8L358.7,385.5L354.4,379.7M395.1,369.7L398.7,385.1M400.6,378.3L398.7,385.1L394.0,379.9M432.3,369.0L440.1,385.8M440.6,377.9L440.1,385.8L433.7,381.1M470.3,369.1L480.6,385.6M480.2,377.4L480.6,385.6L473.4,381.7M510.2,369.1L519.2,385.6M519.3,377.6L519.2,385.6L512.4,381.3M550.5,369.5L557.5,385.2M558.1,377.8L557.5,385.2L551.5,380.7M589.7,370.0L596.8,384.8M597.2,377.6L596.8,384.8L590.9,380.6M628.1,368.3L636.9,386.4M637.4,378.0L636.9,386.4L630.0,381.6M667.4,368.2L676.2,386.5M676.7,378.1L676.2,386.5L669.2,381.6M706.7,368.1L715.4,386.6M716.0,378.1L715.4,386.6L708.5,381.6M744.7,367.0L756.0,387.8M756.0,378.2L756.0,387.8L747.9,382.6M784.3,367.0L794.9,387.8M795.2,378.3L794.9,387.8L787.0,382.5M823.2,367.0L834.5,387.8M834.6,378.2L834.5,387.8L826.4,382.6M862.7,366.8L873.5,388.0M873.9,378.3L873.5,388.0L865.5,382.6M902.2,366.9L912.6,387.8M913.0,378.3L912.6,387.8L904.8,382.5M101.2,389.2L103.6,404.9M106.0,398.3L103.6,404.9L99.3,399.3M140.0,387.8L143.3,406.3M145.9,398.7L143.3,406.3L138.3,400.0M177.4,388.0L184.5,406.0M185.6,397.9L184.5,406.0L178.2,400.8M217.2,388.4L223.2,405.6M224.5,397.9L223.2,405.6L217.4,400.4M256.8,388.3L262.2,405.7M263.8,398.1L262.2,405.7L256.5,400.3M296.2,388.1L301.3,406.0M303.1,398.2L301.3,406.0L295.7,400.3M337.2,388.0L338.8,406.0M342.0,398.9L338.8,406.0L334.5,399.6M376.2,387.8L378.3,406.2M381.4,398.9L378.3,406.2L373.7,399.8M414.8,388.1L418.3,405.9M420.7,398.5L418.3,405.9L413.3,399.9M451.9,388.4L459.7,405.7M460.4,397.6L459.7,405.7L453.3,400.9M491.3,388.3L498.8,405.7M499.6,397.7L498.8,405.7L492.5,400.8M531.1,388.2L537.6,405.8M538.8,397.9L537.6,405.8L531.5,400.6M570.7,388.4L576.5,405.6M577.9,397.9L576.5,405.6L570.8,400.4M609.2,387.1L616.6,406.9M617.9,398.2L616.6,406.9L609.9,401.2M648.4,387.0L655.9,407.0M657.2,398.3L655.9,407.0L649.2,401.3M687.7,386.8L695.1,407.2M696.5,398.3L695.1,407.2L688.4,401.3M725.7,386.3L735.6,407.8M736.4,398.2L735.6,407.8L727.9,402.1M764.8,386.5L775.1,407.5M775.6,398.0L775.1,407.5L767.3,402.1M804.3,386.3L814.2,407.7M814.9,398.2L814.2,407.7L806.4,402.1M843.2,386.8L853.8,407.2M854.1,397.8L853.8,407.2L846.0,402.0M882.5,386.2L893.0,407.9M893.5,398.1L893.0,407.9L885.0,402.2M922.0,386.3L932.0,407.7M932.7,398.1L932.0,407.7L924.3,402.1M121.0,406.5L123.1,426.7M126.4,418.9L123.1,426.7L118.2,419.8M159.7,405.9L162.9,427.3M166.0,419.0L162.9,427.3L157.5,420.3M198.4,405.8L202.7,427.5M205.5,418.8L202.7,427.5L196.9,420.5M237.5,406.7L242.2,426.6M244.5,418.4L242.2,426.6L236.4,420.3M277.9,405.9L280.4,427.4M283.8,419.1L280.4,427.4L275.2,420.1M316.7,406.2L320.0,427.1M323.0,418.9L320.0,427.1L314.6,420.2M358.5,406.1L356.8,427.2M361.7,419.9L356.8,427.2L353.2,419.2M397.6,406.3L396.2,427.0M400.9,419.7L396.2,427.0L392.5,419.2M433.9,406.7L438.4,426.6M440.8,418.4L438.4,426.6L432.7,420.2M472.1,406.5L478.8,426.8M480.5,418.1L478.8,426.8L472.3,420.8M511.9,406.3L517.5,427.0M519.6,418.4L517.5,427.0L511.3,420.6M552.0,407.0L555.9,426.2M558.4,418.4L555.9,426.2L550.6,420.0M590.4,405.7L596.1,427.5M598.4,418.6L596.1,427.5L589.7,420.9M629.3,405.8L635.8,427.5M637.7,418.4L635.8,427.5L629.1,421.0M668.8,405.8L674.8,427.5M676.9,418.5L674.8,427.5L668.3,420.9M707.7,405.4L714.4,427.9M716.4,418.6L714.4,427.9L707.6,421.2M746.1,405.3L754.5,428.0M756.0,418.3L754.5,428.0L747.1,421.6M785.2,405.4L794.0,427.9M795.3,418.2L794.0,427.9L786.4,421.7M824.2,405.5L833.5,427.8M834.6,418.1L833.5,427.8L825.8,421.7M863.0,405.4L873.2,427.9M874.0,418.0L873.2,427.9L865.2,421.9M902.4,405.5L912.4,427.8M913.2,418.0L912.4,427.8L904.5,421.9M101.8,430.0L103.0,442.5M105.4,437.1L103.0,442.5L99.6,437.6M140.2,427.6L143.2,445.0M145.7,437.8L143.2,445.0L138.4,439.0M180.4,424.9L181.5,447.7M185.6,439.3L181.5,447.7L176.6,439.8M218.8,425.2L221.6,447.4M225.0,438.8L221.6,447.4L216.2,440.0M257.5,425.4L261.5,447.2M264.4,438.5L261.5,447.2L255.7,440.1M298.7,425.2L298.8,447.3M303.2,439.3L298.8,447.3L294.4,439.4M338.1,425.3L337.9,447.2M342.4,439.4L337.9,447.2L333.6,439.3M378.3,425.4L376.3,447.2M381.3,439.7L376.3,447.2L372.6,438.9M415.7,427.5L417.4,445.0M420.4,438.0L417.4,445.0L413.1,438.8M453.1,425.3L458.6,447.2M460.9,438.3L458.6,447.2L452.2,440.5M493.6,424.4L496.5,448.1M500.2,439.1L496.5,448.1L490.8,440.3M533.0,424.4L535.7,448.1M539.4,439.2L535.7,448.1L530.1,440.3M571.7,424.4L575.5,448.1M578.8,439.0L575.5,448.1L569.5,440.5M609.9,424.4L615.9,448.2M618.4,438.6L615.9,448.2L609.1,440.9M649.6,424.7L654.7,447.8M657.4,438.6L654.7,447.8L648.3,440.6M688.9,424.6L693.9,448.0M696.7,438.7L693.9,448.0L687.5,440.7M727.6,424.4L733.7,448.2M736.2,438.6L733.7,448.2L726.9,441.0M766.6,424.4L773.4,448.2M775.6,438.5L773.4,448.2L766.3,441.1M805.4,424.4L813.0,448.1M815.0,438.3L813.0,448.1L805.7,441.3M844.2,424.5L852.8,448.1M854.4,438.1L852.8,448.1L845.2,441.5M883.0,424.6L892.5,448.0M893.7,437.9L892.5,448.0L884.6,441.6M922.3,425.0L931.7,447.6M932.8,437.8L931.7,447.6L924.0,441.5M121.4,450.2L122.6,461.6M124.8,456.5L122.6,461.6L119.4,457.0M160.8,445.3L161.8,466.5M165.7,458.6L161.8,466.5L157.2,459.0M200.3,444.6L200.9,467.2M205.1,459.0L200.9,467.2L196.2,459.2M238.9,444.6L240.8,467.2M244.6,458.7L240.8,467.2L235.6,459.5M278.7,444.5L279.5,467.3M283.7,459.0L279.5,467.3L274.7,459.3M318.6,444.6L318.2,467.3M322.8,459.2L318.2,467.3L313.8,459.1M358.4,444.6L356.9,467.2M361.9,459.4L356.9,467.2L352.9,458.8M397.4,444.6L396.4,467.2M401.3,459.3L396.4,467.2L392.3,458.9M433.7,447.8L438.7,464.0M440.2,456.8L438.7,464.0L433.3,458.9M474.1,443.6L476.8,468.2M480.6,459.0L476.8,468.2L471.0,460.1M513.8,443.3L515.7,468.5M519.9,459.3L515.7,468.5L510.1,460.0M552.7,442.9L555.2,469.0M559.4,459.4L555.2,469.0L549.3,460.4M590.4,442.9L596.1,469.0M599.1,458.9L596.1,469.0L589.2,461.1M629.9,443.4L635.2,468.4M638.2,458.6L635.2,468.4L628.5,460.7M669.6,443.7L674.0,468.1M677.2,458.7L674.0,468.1L667.7,460.4M708.7,443.6L713.4,468.2M716.5,458.6L713.4,468.2L707.0,460.5M747.8,443.6L752.8,468.2M755.9,458.6L752.8,468.2L746.3,460.6M786.7,443.6L792.5,468.2M795.3,458.5L792.5,468.2L785.7,460.7M825.6,443.5L832.1,468.3M834.6,458.3L832.1,468.3L825.0,460.9M864.1,443.6L872.2,468.2M874.1,458.1L872.2,468.2L864.6,461.2M902.8,443.9L912.0,467.9M913.4,457.7L912.0,467.9L904.1,461.3M102.1,471.1L102.7,480.0M104.7,475.7L102.7,480.0L100.1,476.0M140.4,468.9L143.0,482.2M144.9,476.2L143.0,482.2L138.9,477.4M180.9,463.8L180.9,487.3M185.6,478.9L180.9,487.3L176.3,478.9M220.3,463.9L220.1,487.2M224.8,478.9L220.1,487.2L215.6,478.8M259.2,463.9L259.8,487.2M264.2,478.8L259.8,487.2L254.9,479.0M298.9,463.8L298.6,487.3M303.3,479.0L298.6,487.3L294.1,478.9M338.5,463.8L337.5,487.2M342.5,479.1L337.5,487.2L333.2,478.7M377.9,463.9L376.6,487.2M381.7,479.2L376.6,487.2L372.5,478.6M416.2,470.6L416.9,480.5M419.0,475.9L416.9,480.5L414.1,476.3M453.9,467.4L457.7,483.7M459.7,476.7L457.7,483.7L452.8,478.2M494.6,462.8L495.6,488.3M500.2,479.2L495.6,488.3L490.3,479.6M533.4,462.4L535.3,488.7M539.7,479.2L535.3,488.7L529.6,479.9M571.3,462.2L576.0,488.8M579.4,478.9L576.0,488.8L569.4,480.7M610.0,462.3L615.7,488.8M618.8,478.8L615.7,488.8L608.8,480.9M649.9,462.7L654.4,488.4M657.8,478.5L654.4,488.4L647.9,480.3M689.4,462.9L693.5,488.2M696.9,478.5L693.5,488.2L687.1,480.1M728.5,463.0L732.8,488.1M736.2,478.5L732.8,488.1L726.4,480.2M767.7,462.9L772.3,488.2M775.5,478.4L772.3,488.2L765.8,480.2M806.7,462.8L811.7,488.3M814.9,478.4L811.7,488.3L805.1,480.4M845.5,462.9L851.5,488.2M854.3,478.2L851.5,488.2L844.5,480.5M884.1,463.2L891.4,487.9M893.6,477.8L891.4,487.9L884.1,480.7M923.1,463.5L931.0,487.6M932.9,477.6L931.0,487.6L923.5,480.7M118.7,493.4L125.3,496.9M123.0,493.4L125.3,496.9L121.1,497.0M161.2,483.7L161.4,506.7M165.9,498.4L161.4,506.7L156.8,498.5M200.8,483.3L200.3,507.0M205.2,498.7L200.3,507.0L195.8,498.5M240.0,483.2L239.7,507.1M244.5,498.7L239.7,507.1L235.1,498.6M279.2,483.1L279.0,507.3M283.8,498.8L279.0,507.3L274.3,498.7M318.7,483.1L318.0,507.3M323.0,498.9L318.0,507.3L313.5,498.6M358.1,483.2L357.1,507.2M362.2,498.9L357.1,507.2L352.8,498.5M397.1,484.5L396.7,505.9M401.1,498.2L396.7,505.9L392.5,498.0M432.4,496.4L440.0,493.9M435.6,493.1L440.0,493.9L437.0,497.2M474.5,483.3L476.4,507.1M480.4,498.3L476.4,507.1L471.0,499.0M513.8,482.4L515.6,508.0M520.0,498.7L515.6,508.0L510.0,499.4M552.3,481.5L555.7,508.9M559.6,499.1L555.7,508.9L549.5,500.4M590.2,482.3L596.3,508.1M599.1,498.0L596.3,508.1L589.2,500.3M630.0,481.9L635.0,508.4M638.3,498.5L635.0,508.4L628.3,500.3M669.7,482.2L673.9,508.2M677.4,498.3L673.9,508.2L667.4,499.9M709.0,482.4L713.1,508.0M716.6,498.3L713.1,508.0L706.7,499.8M748.2,482.4L752.4,507.9M755.9,498.2L752.4,507.9L746.0,499.8M787.5,482.3L791.7,508.0M795.2,498.2L791.7,508.0L785.3,499.9M826.8,482.1L830.9,508.3M834.5,498.4L830.9,508.3L824.5,500.0M865.4,482.8L870.8,507.6M873.8,497.8L870.8,507.6L864.1,499.9M904.1,482.8L910.7,507.6M913.2,497.6L910.7,507.6L903.6,500.2M102.3,510.9L102.5,518.7M104.5,514.8L102.5,518.7L100.3,515.0M140.9,507.4L142.4,522.3M145.1,516.1L142.4,522.3L138.6,516.7M181.0,502.9L180.8,526.7M185.6,518.3L180.8,526.7L176.2,518.2M220.5,502.7L219.9,526.9M224.9,518.5L219.9,526.9L215.4,518.3M259.6,502.5L259.3,527.1M264.2,518.5L259.3,527.1L254.6,518.4M298.9,502.4L298.6,527.3M303.5,518.6L298.6,527.3L293.8,518.4M338.3,502.5L337.7,527.2M342.8,518.6L337.7,527.2L333.1,518.4M377.5,502.6L377.0,527.0M382.0,518.5L377.0,527.0L372.4,518.3M416.2,511.1L416.9,518.5M418.6,514.6L416.9,518.5L414.5,515.0M454.6,507.4L457.0,522.2M459.3,515.8L457.0,522.2L452.8,516.9M494.8,502.1L495.3,527.6M500.1,518.5L495.3,527.6L490.2,518.7M533.0,501.9L535.7,527.7M539.7,518.2L535.7,527.7L529.8,519.2M570.8,501.5L576.4,528.1M579.5,518.1L576.4,528.1L569.5,520.2M610.3,501.6L615.5,528.1M618.7,518.1L615.5,528.1L608.7,520.0M650.1,501.5L654.2,528.2M657.9,518.3L654.2,528.2L647.8,519.9M689.4,501.8L693.5,527.9M697.1,518.0L693.5,527.9L687.0,519.6M728.7,502.0L732.7,527.7M736.3,517.9L732.7,527.7L726.3,519.5M767.9,501.9L772.0,527.7M775.5,517.9L772.0,527.7L765.6,519.5M807.3,501.8L811.2,527.8M814.8,518.0L811.2,527.8L804.8,519.5M846.3,502.0L850.7,527.6M854.1,517.8L850.7,527.6L844.2,519.5M885.1,502.3L890.4,527.4M893.4,517.5L890.4,527.4L883.7,519.6M923.9,502.4L930.1,527.2M932.8,517.3L930.1,527.2L923.1,519.7M118.6,535.1L125.5,533.8M121.6,532.5L125.5,533.8L122.3,536.4M161.3,522.6L161.3,546.3M166.0,537.9L161.3,546.3L156.6,537.9M200.7,522.3L200.4,546.6M205.3,538.1L200.4,546.6L195.8,537.9M240.0,522.0L239.6,546.9M244.6,538.2L239.6,546.9L234.9,538.1M279.2,521.8L279.0,547.1M284.0,538.3L279.0,547.1L274.1,538.2M318.4,521.8L318.3,547.1M323.3,538.2L318.3,547.1L313.4,538.2M357.7,521.9L357.6,547.0M362.5,538.2L357.6,547.0L352.8,538.1M396.9,522.0L396.9,546.9M401.8,538.1L396.9,546.9L392.1,538.1M434.1,538.8L438.3,530.1M434.2,533.0L438.3,530.1L438.6,535.1M475.0,521.8L475.9,547.1M480.5,538.0L475.9,547.1L470.7,538.4M513.8,521.5L515.6,547.4M520.0,538.0L515.6,547.4L510.0,538.7M552.1,521.2L555.9,547.7M559.6,537.9L555.9,547.7L549.5,539.3M590.8,521.2L595.7,547.7M599.0,537.7L595.7,547.7L589.0,539.6M630.6,520.8L634.5,548.1M638.2,538.3L634.5,548.1L628.1,539.7M669.8,521.2L673.8,547.7M677.5,537.9L673.8,547.7L667.4,539.4M708.9,521.5L713.2,547.4M716.7,537.5L713.2,547.4L706.7,539.2M748.3,521.6L752.4,547.3M755.9,537.5L752.4,547.3L746.0,539.1M787.6,521.5L791.6,547.4M795.2,537.6L791.6,547.4L785.2,539.1M826.9,521.5L830.8,547.4M834.5,537.6L830.8,547.4L824.5,539.1M865.9,521.7L870.4,547.2M873.7,537.4L870.4,547.2L863.9,539.2M904.8,521.8L910.0,547.1M913.1,537.2L910.0,547.1L903.3,539.3M102.4,550.3L102.4,557.8M104.5,554.1L102.4,557.8L100.3,554.1M141.3,549.1L142.0,559.1M144.2,554.4L142.0,559.1L139.2,554.8M181.0,541.9L180.9,566.3M185.7,557.7L180.9,566.3L176.2,557.6M220.5,541.6L219.9,566.6M225.0,557.9L219.9,566.6L215.2,557.7M259.5,541.3L259.4,566.8M264.4,557.9L259.4,566.8L254.5,557.9M298.7,541.1L298.7,567.1M303.8,558.0L298.7,567.1L293.7,558.0M337.8,541.4L338.2,566.8M343.0,557.8L338.2,566.8L333.1,558.0M377.1,541.5L377.4,566.7M382.2,557.8L377.4,566.7L372.4,557.9M415.0,548.5L418.0,559.7M419.4,554.2L418.0,559.7L414.1,555.6M454.8,548.5L456.8,559.7M458.6,554.4L456.8,559.7L453.3,555.4M494.3,541.1L495.9,567.1M500.3,557.7L495.9,567.1L490.3,558.3M532.9,540.8L535.8,567.4M539.9,557.7L535.8,567.4L529.7,558.8M571.5,540.8L575.7,567.4M579.3,557.5L575.7,567.4L569.2,559.1M610.8,541.0L615.0,567.2M618.5,557.3L615.0,567.2L608.5,558.9M650.5,540.7L653.8,567.4M657.7,557.7L653.8,567.4L647.6,559.0M689.1,541.1L693.8,567.1M697.1,557.2L693.8,567.1L687.1,559.0M728.6,541.3L732.8,566.9M736.3,557.1L732.8,566.9L726.3,558.8M768.0,541.2L772.0,566.9M775.5,557.2L772.0,566.9L765.6,558.7M807.2,541.2L811.2,567.0M814.8,557.2L811.2,567.0L804.8,558.8M846.5,541.2L850.5,567.0M854.1,557.2L850.5,567.0L844.1,558.7M885.5,541.3L890.0,566.9M893.4,557.1L890.0,566.9L883.5,558.8M924.5,541.4L929.5,566.8M932.7,556.9L929.5,566.8L922.9,558.9M122.0,570.0L122.0,577.5M124.1,573.7L122.0,577.5L120.0,573.7M160.7,564.2L161.9,583.2M165.4,575.9L161.9,583.2L157.6,576.4M200.7,561.2L200.4,586.2M205.4,577.5L200.4,586.2L195.6,577.4M240.5,561.0L239.2,586.4M244.6,577.8L239.2,586.4L234.7,577.3M279.6,561.0L278.6,586.5M283.9,577.7L278.6,586.5L274.0,577.3M317.8,561.0L318.9,586.5M323.5,577.3L318.9,586.5L313.6,577.7M357.3,561.0L358.0,586.5M362.7,577.4L358.0,586.5L352.8,577.7M396.6,561.0L397.2,586.4M401.9,577.4L397.2,586.4L392.1,577.6M432.3,573.0L440.1,574.5M436.7,571.6L440.1,574.5L435.9,575.9M474.8,561.8L476.1,585.6M480.3,576.9L476.1,585.6L471.0,577.4M513.6,560.5L515.9,586.9M520.1,577.4L515.9,586.9L510.0,578.2M552.3,560.3L555.6,587.1M559.6,577.3L555.6,587.1L549.5,578.6M591.3,560.5L595.2,586.9M598.9,577.1L595.2,586.9L588.8,578.6M630.7,560.5L634.3,586.9M638.1,577.2L634.3,586.9L628.0,578.5M669.8,560.6L673.8,586.8M677.4,577.0L673.8,586.8L667.4,578.5M709.0,561.0L713.1,586.4M716.6,576.7L713.1,586.4L706.7,578.3M748.3,560.9L752.3,586.6M755.9,576.8L752.3,586.6L746.0,578.4M787.6,560.8L791.6,586.6M795.2,576.8L791.6,586.6L785.2,578.4M826.9,560.8L830.8,586.6M834.4,576.9L830.8,586.6L824.5,578.4M866.1,560.8L870.1,586.6M873.7,576.8L870.1,586.6L863.7,578.4M905.2,560.9L909.6,586.5M913.0,576.7L909.6,586.5L903.1,578.4M102.4,589.4L102.4,597.3M104.6,593.5L102.4,597.3L100.2,593.5M141.7,587.9L141.7,598.9M144.3,594.1L141.7,598.9L139.0,594.1M181.0,581.5L180.9,605.2M185.6,596.8L180.9,605.2L176.3,596.8M220.6,580.7L219.8,606.0M225.0,597.3L219.8,606.0L215.2,597.0M260.1,580.6L258.9,606.1M264.2,597.4L258.9,606.1L254.3,596.9M298.7,580.6L298.7,606.1M303.7,597.2L298.7,606.1L293.8,597.2M337.5,580.6L338.5,606.1M343.1,597.0L338.5,606.1L333.2,597.4M376.9,580.6L377.7,606.1M382.3,597.0L377.7,606.1L372.5,597.3M414.9,586.6L418.2,600.1M419.9,593.9L418.2,600.1L413.9,595.4M455.4,588.9L456.2,597.8M458.1,593.5L456.2,597.8L453.5,593.9M494.1,580.2L496.1,606.5M500.5,597.0L496.1,606.5L490.3,597.7M533.0,580.0L535.7,606.7M539.8,597.0L535.7,606.7L529.7,598.1M571.9,580.0L575.3,606.7M579.2,596.9L575.3,606.7L569.1,598.2M611.1,580.1L614.7,606.6M618.5,596.8L614.7,606.6L608.4,598.1M650.3,580.2L654.0,606.5M657.8,596.7L654.0,606.5L647.7,598.1M689.4,580.4L693.5,606.3M697.0,596.5L693.5,606.3L687.0,598.1M728.7,580.5L732.7,606.2M736.3,596.5L732.7,606.2L726.3,598.0M768.0,580.4L771.9,606.3M775.5,596.5L771.9,606.3L765.5,598.0M807.3,580.5L811.1,606.2M814.8,596.5L811.1,606.2L804.8,598.0M846.6,580.4L850.4,606.3M854.1,596.5L850.4,606.3L844.1,598.0M885.8,580.5L889.7,606.2M893.3,596.5L889.7,606.2L883.4,598.0M925.0,580.5L929.1,606.2M932.6,596.4L929.1,606.2L922.7,598.0M124.2,609.2L119.9,616.7M123.9,614.3L119.9,616.7L120.0,612.1M160.7,605.0L161.9,621.0M164.9,614.5L161.9,621.0L158.0,615.0M200.7,600.4L200.4,625.5M205.4,616.8L200.4,625.5L195.6,616.7M240.5,600.3L239.2,625.7M244.6,617.0L239.2,625.7L234.7,616.5M279.5,600.2L278.7,625.7M283.9,617.0L278.7,625.7L274.0,616.6M317.9,600.2L318.8,625.7M323.5,616.6L318.8,625.7L313.6,617.0M357.2,600.2L358.1,625.7M362.7,616.6L358.1,625.7L352.8,617.0M396.4,600.2L397.4,625.8M402.0,616.6L397.4,625.8L392.1,617.0M435.2,608.1L437.1,617.9M438.7,613.0L437.1,617.9L433.9,614.0M473.3,604.2L477.6,621.7M479.6,614.3L477.6,621.7L472.3,616.0M513.5,599.7L515.9,626.3M520.2,616.6L515.9,626.3L510.0,617.6M552.5,599.6L555.5,626.3M559.5,616.6L555.5,626.3L549.4,617.8M591.6,599.7L594.9,626.3M598.8,616.5L594.9,626.3L588.7,617.8M630.8,599.8L634.2,626.2M638.1,616.4L634.2,626.2L628.0,617.8M669.9,599.9L673.6,626.1M677.4,616.3L673.6,626.1L667.3,617.7M709.1,600.0L713.0,626.0M716.7,616.2L713.0,626.0L706.6,617.7M748.4,599.9L752.2,626.0M755.9,616.2L752.2,626.0L745.9,617.7M787.7,600.0L791.4,625.9M795.2,616.2L791.4,625.9L785.1,617.6M827.0,600.0L830.7,625.9M834.4,616.2L830.7,625.9L824.4,617.6M866.3,600.1L869.9,625.9M873.7,616.2L869.9,625.9L863.7,617.6M905.5,600.1L909.3,625.9M912.9,616.1L909.3,625.9L903.0,617.6M102.4,629.1L102.4,636.2M104.4,632.6L102.4,636.2L100.4,632.5M141.7,627.6L141.6,637.7M144.2,633.2L141.6,637.7L139.2,633.2M181.1,624.2L180.8,641.0M184.5,634.6L180.8,641.0L177.4,634.5M220.6,620.0L219.8,645.3M225.0,636.6L219.8,645.3L215.2,636.2M260.0,619.9L259.0,645.4M264.3,636.6L259.0,645.4L254.4,636.3M298.8,619.8L298.7,645.4M303.7,636.5L298.7,645.4L293.8,636.4M337.6,619.8L338.4,645.4M343.1,636.3L338.4,645.4L333.2,636.6M376.8,619.8L377.7,645.4M382.4,636.3L377.7,645.4L372.4,636.6M415.0,625.8L418.1,639.4M419.9,633.3L418.1,639.4L413.8,634.7M455.5,628.6L456.2,636.6M458.0,632.5L456.2,636.6L453.7,632.9M494.0,619.4L496.2,645.8M500.5,636.3L496.2,645.8L490.3,637.1M533.1,619.3L535.6,646.0M539.8,636.3L535.6,646.0L529.7,637.3M572.1,619.3L575.1,646.0M579.1,636.3L575.1,646.0L569.0,637.4M611.3,619.3L614.5,645.9M618.4,636.2L614.5,645.9L608.3,637.4M650.5,619.4L653.9,645.8M657.7,636.1L653.9,645.8L647.6,637.4M689.6,619.5L693.2,645.7M697.0,635.9L693.2,645.7L686.9,637.3M728.9,619.5L732.5,645.7M736.3,635.9L732.5,645.7L726.2,637.3M768.2,619.5L771.8,645.7M775.6,635.9L771.8,645.7L765.5,637.3M807.5,619.6L811.0,645.6M814.8,635.9L811.0,645.6L804.7,637.2M846.8,619.6L850.2,645.6M854.0,635.9L850.2,645.6L844.0,637.2M886.0,619.7L889.5,645.5M893.3,635.8L889.5,645.5L883.3,637.2M925.2,619.7L928.9,645.5M932.6,635.8L928.9,645.5L922.6,637.2" fill="none" stroke="#000" stroke-width="1.10" stroke-linejoin="miter"/>
<rect x="287.5" y="130.5" width="30" height="24" fill="none" stroke="#fff" stroke-width="1.1" shape-rendering="crispEdges"/><text x="302.5" y="149.7" font-size="20.3" text-anchor="middle" style="fill:#fff" stroke="#fff" stroke-width="0.85">80</text><rect x="519.5" y="200.5" width="30" height="24" fill="none" stroke="#fff" stroke-width="1.1" shape-rendering="crispEdges"/><text x="534.5" y="219.7" font-size="20.3" text-anchor="middle" style="fill:#fff" stroke="#fff" stroke-width="0.85">80</text><rect x="189.5" y="307.5" width="30" height="24" fill="none" stroke="#fff" stroke-width="1.1" shape-rendering="crispEdges"/><text x="204.5" y="326.7" font-size="20.3" text-anchor="middle" style="fill:#fff" stroke="#fff" stroke-width="0.85">80</text><rect x="295.5" y="444.5" width="30" height="24" fill="none" stroke="#fff" stroke-width="1.1" shape-rendering="crispEdges"/><text x="310.5" y="463.7" font-size="20.3" text-anchor="middle" style="fill:#fff" stroke="#fff" stroke-width="0.85">80</text><rect x="371.5" y="366.5" width="30" height="24" fill="none" stroke="#fff" stroke-width="1.1" shape-rendering="crispEdges"/><text x="386.5" y="385.7" font-size="20.3" text-anchor="middle" style="fill:#fff" stroke="#fff" stroke-width="0.85">80</text><rect x="559.5" y="386.5" width="30" height="24" fill="none" stroke="#fff" stroke-width="1.1" shape-rendering="crispEdges"/><text x="574.5" y="405.7" font-size="20.3" text-anchor="middle" style="fill:#fff" stroke="#fff" stroke-width="0.85">80</text>
</g>
<rect x="102.0" y="103.0" width="844.5" height="529.0" fill="none" stroke="#000" stroke-width="2"/>
<text x="947.8" y="10.0" font-size="13.20" text-anchor="end" stroke="#000" stroke-width="0.40" textLength="172.0" lengthAdjust="spacing" >Valid: 2014-07-04_08:00:00</text>
<text x="106.5" y="52.4" font-size="13.20" text-anchor="start" stroke="#000" stroke-width="0.40" textLength="313.5" lengthAdjust="spacing" >Wind Speed [m/s] and RH [&gt;80 %] at 500 m height</text>
<text x="106.5" y="67.8" font-size="13.20" text-anchor="start" stroke="#000" stroke-width="0.40" textLength="87.0" lengthAdjust="spacing" >Wind&#160;&#160;&#160;(m s-1)</text>
<text x="106.5" y="83.2" font-size="13.20" text-anchor="start" stroke="#000" stroke-width="0.40" textLength="142.0" lengthAdjust="spacing" >Relative Humidity&#160;&#160;&#160;(%)</text>
<text x="73.5" y="162.0" font-size="19.40" text-anchor="end" stroke="#000" stroke-width="0.75" textLength="74.5" lengthAdjust="spacing" >35<tspan font-size="17.1" dy="-1.7" dx="-1.3" stroke-width="0.3">°</tspan><tspan dy="1.7" dx="-1.2">40<tspan dx="2" stroke-width="1.2">'</tspan><tspan dx="1.2">N</tspan></tspan></text>
<text x="73.5" y="253.5" font-size="19.40" text-anchor="end" stroke="#000" stroke-width="0.75" textLength="74.5" lengthAdjust="spacing" >35<tspan font-size="17.1" dy="-1.7" dx="-1.3" stroke-width="0.3">°</tspan><tspan dy="1.7" dx="-1.2">30<tspan dx="2" stroke-width="1.2">'</tspan><tspan dx="1.2">N</tspan></tspan></text>
<text x="73.5" y="345.0" font-size="19.40" text-anchor="end" stroke="#000" stroke-width="0.75" textLength="74.5" lengthAdjust="spacing" >35<tspan font-size="17.1" dy="-1.7" dx="-1.3" stroke-width="0.3">°</tspan><tspan dy="1.7" dx="-1.2">20<tspan dx="2" stroke-width="1.2">'</tspan><tspan dx="1.2">N</tspan></tspan></text>
<text x="73.5" y="437.0" font-size="19.40" text-anchor="end" stroke="#000" stroke-width="0.75" textLength="74.5" lengthAdjust="spacing" >35<tspan font-size="17.1" dy="-1.7" dx="-1.3" stroke-width="0.3">°</tspan><tspan dy="1.7" dx="-1.2">10<tspan dx="2" stroke-width="1.2">'</tspan><tspan dx="1.2">N</tspan></tspan></text>
<text x="73.5" y="528.3" font-size="19.40" text-anchor="end" stroke="#000" stroke-width="0.75" textLength="42.5" lengthAdjust="spacing" >35<tspan font-size="17.1" dy="-1.7" dx="-1.3" stroke-width="0.3">°</tspan><tspan dy="1.7" dx="-1.2">N</tspan></text>
<text x="73.5" y="620.0" font-size="19.40" text-anchor="end" stroke="#000" stroke-width="0.75" textLength="74.5" lengthAdjust="spacing" >34<tspan font-size="17.1" dy="-1.7" dx="-1.3" stroke-width="0.3">°</tspan><tspan dy="1.7" dx="-1.2">50<tspan dx="2" stroke-width="1.2">'</tspan><tspan dx="1.2">N</tspan></tspan></text>
<text x="222.0" y="678.5" font-size="19.40" text-anchor="middle" stroke="#000" stroke-width="0.75" textLength="42.0" lengthAdjust="spacing" >25<tspan font-size="17.1" dy="-1.7" dx="-1.3" stroke-width="0.3">°</tspan><tspan dy="1.7" dx="-1.2">E</tspan></text>
<text x="373.0" y="678.5" font-size="19.40" text-anchor="middle" stroke="#000" stroke-width="0.75" textLength="73.0" lengthAdjust="spacing" >25<tspan font-size="17.1" dy="-1.7" dx="-1.3" stroke-width="0.3">°</tspan><tspan dy="1.7" dx="-1.2">20<tspan dx="2" stroke-width="1.2">'</tspan><tspan dx="1.2">E</tspan></tspan></text>
<text x="524.0" y="678.5" font-size="19.40" text-anchor="middle" stroke="#000" stroke-width="0.75" textLength="73.0" lengthAdjust="spacing" >25<tspan font-size="17.1" dy="-1.7" dx="-1.3" stroke-width="0.3">°</tspan><tspan dy="1.7" dx="-1.2">40<tspan dx="2" stroke-width="1.2">'</tspan><tspan dx="1.2">E</tspan></tspan></text>
<text x="675.0" y="678.5" font-size="19.40" text-anchor="middle" stroke="#000" stroke-width="0.75" textLength="42.0" lengthAdjust="spacing" >26<tspan font-size="17.1" dy="-1.7" dx="-1.3" stroke-width="0.3">°</tspan><tspan dy="1.7" dx="-1.2">E</tspan></text>
<text x="826.0" y="678.5" font-size="19.40" text-anchor="middle" stroke="#000" stroke-width="0.75" textLength="73.0" lengthAdjust="spacing" >26<tspan font-size="17.1" dy="-1.7" dx="-1.3" stroke-width="0.3">°</tspan><tspan dy="1.7" dx="-1.2">20<tspan dx="2" stroke-width="1.2">'</tspan><tspan dx="1.2">E</tspan></tspan></text>
<path d="M86.5,155.0H102.0M86.5,246.5H102.0M86.5,338.0H102.0M86.5,430.0H102.0M86.5,521.3H102.0M86.5,613.0H102.0M222.0,632.0V647.5M373.0,632.0V647.5M524.0,632.0V647.5M675.0,632.0V647.5M826.0,632.0V647.5" stroke="#000" stroke-width="2" fill="none"/>
<rect x="255.00" y="789.50" width="24.77" height="28.00" fill="#7a20ee"/>
<rect x="279.47" y="789.50" width="24.77" height="28.00" fill="#3010f0"/>
<rect x="303.95" y="789.50" width="24.77" height="28.00" fill="#141ef0"/>
<rect x="328.42" y="789.50" width="24.77" height="28.00" fill="#3850e2"/>
<rect x="352.89" y="789.50" width="24.77" height="28.00" fill="#3674ea"/>
<rect x="377.36" y="789.50" width="24.77" height="28.00" fill="#2488f4"/>
<rect x="401.84" y="789.50" width="24.77" height="28.00" fill="#12a4fa"/>
<rect x="426.31" y="789.50" width="24.77" height="28.00" fill="#12befa"/>
<rect x="450.78" y="789.50" width="24.77" height="28.00" fill="#60c2f0"/>
<rect x="475.25" y="789.50" width="24.77" height="28.00" fill="#a0d2f0"/>
<rect x="499.73" y="789.50" width="24.77" height="28.00" fill="#c4e6f5"/>
<rect x="524.20" y="789.50" width="24.77" height="28.00" fill="#fffaa0"/>
<rect x="548.67" y="789.50" width="24.77" height="28.00" fill="#ffe84c"/>
<rect x="573.15" y="789.50" width="24.77" height="28.00" fill="#ffc824"/>
<rect x="597.62" y="789.50" width="24.77" height="28.00" fill="#ffaa0a"/>
<rect x="622.09" y="789.50" width="24.77" height="28.00" fill="#ff8705"/>
<rect x="646.56" y="789.50" width="24.77" height="28.00" fill="#ff6005"/>
<rect x="671.04" y="789.50" width="24.77" height="28.00" fill="#ff1e05"/>
<rect x="695.51" y="789.50" width="24.77" height="28.00" fill="#eb0505"/>
<rect x="719.98" y="789.50" width="24.77" height="28.00" fill="#cd0000"/>
<rect x="744.45" y="789.50" width="24.77" height="28.00" fill="#de4646"/>
<rect x="768.93" y="789.50" width="24.77" height="28.00" fill="#ffaeae"/>
<path d="M279.47,789.5V817.5M303.95,789.5V817.5M328.42,789.5V817.5M352.89,789.5V817.5M377.36,789.5V817.5M401.84,789.5V817.5M426.31,789.5V817.5M450.78,789.5V817.5M475.25,789.5V817.5M499.73,789.5V817.5M524.20,789.5V817.5M548.67,789.5V817.5M573.15,789.5V817.5M597.62,789.5V817.5M622.09,789.5V817.5M646.56,789.5V817.5M671.04,789.5V817.5M695.51,789.5V817.5M719.98,789.5V817.5M744.45,789.5V817.5M768.93,789.5V817.5" stroke="#000" stroke-width="1" fill="none" shape-rendering="crispEdges"/>
<rect x="255.00" y="789.50" width="538.40" height="28.00" fill="none" stroke="#000" stroke-width="1.3"/>
<text x="280.0" y="855.0" font-size="22.50" text-anchor="middle" stroke="#000" stroke-width="0.80" >0</text>
<text x="328.9" y="855.0" font-size="22.50" text-anchor="middle" stroke="#000" stroke-width="0.80" >2</text>
<text x="377.9" y="855.0" font-size="22.50" text-anchor="middle" stroke="#000" stroke-width="0.80" >4</text>
<text x="426.8" y="855.0" font-size="22.50" text-anchor="middle" stroke="#000" stroke-width="0.80" >6</text>
<text x="475.8" y="855.0" font-size="22.50" text-anchor="middle" stroke="#000" stroke-width="0.80" >8</text>
<text x="524.7" y="855.0" font-size="22.50" text-anchor="middle" stroke="#000" stroke-width="0.80" textLength="23.6" lengthAdjust="spacing" >10</text>
<text x="573.6" y="855.0" font-size="22.50" text-anchor="middle" stroke="#000" stroke-width="0.80" textLength="23.6" lengthAdjust="spacing" >12</text>
<text x="622.6" y="855.0" font-size="22.50" text-anchor="middle" stroke="#000" stroke-width="0.80" textLength="23.6" lengthAdjust="spacing" >14</text>
<text x="671.5" y="855.0" font-size="22.50" text-anchor="middle" stroke="#000" stroke-width="0.80" textLength="23.6" lengthAdjust="spacing" >16</text>
<text x="720.5" y="855.0" font-size="22.50" text-anchor="middle" stroke="#000" stroke-width="0.80" textLength="23.6" lengthAdjust="spacing" >18</text>
<text x="769.4" y="855.0" font-size="22.50" text-anchor="middle" stroke="#000" stroke-width="0.80" textLength="23.6" lengthAdjust="spacing" >20</text>
<text x="524.5" y="780.0" font-size="19.40" text-anchor="middle" stroke="#000" stroke-width="0.75" textLength="457.5" lengthAdjust="spacing" >Wind Speed [m/s] and RH [&gt;80 %] at 500 m height</text>
</svg></body></html>
